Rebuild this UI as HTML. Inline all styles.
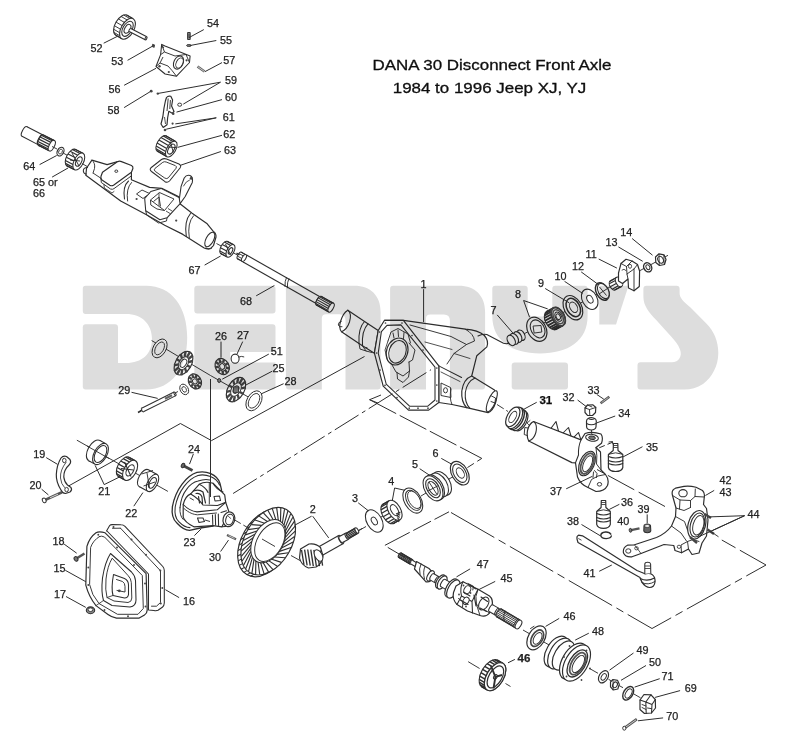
<!DOCTYPE html>
<html><head><meta charset="utf-8"><title>DANA 30 Disconnect Front Axle</title>
<style>
html,body{margin:0;padding:0;background:#fff;}
body{width:791px;height:750px;overflow:hidden;font-family:"Liberation Sans",sans-serif;}
svg{display:block;font-family:"Liberation Sans",sans-serif;}
</style></head><body>
<svg width="791" height="750" viewBox="0 0 791 750">
<rect width="791" height="750" fill="#fff"/>
<g id="art" filter="url(#soft)">
<ellipse cx="121.5" cy="25.2" rx="6.3" ry="11.5" transform="rotate(30 121.5 25.2)" fill="#fff" stroke="#2e2e2e" stroke-width="1.06"/>
<polygon points="115.7,35.2 121.8,38.7 133.3,18.8 127.2,15.3" fill="#fff" stroke="none" stroke-width="0.00" stroke-linejoin="round"/>
<line x1="115.7" y1="35.2" x2="121.8" y2="38.7" stroke="#2e2e2e" stroke-width="1.06" stroke-linecap="butt"/>
<line x1="127.2" y1="15.3" x2="133.3" y2="18.8" stroke="#2e2e2e" stroke-width="1.06" stroke-linecap="butt"/>
<line x1="114.9" y1="34.5" x2="120.9" y2="38.0" stroke="#2e2e2e" stroke-width="0.94" stroke-linecap="butt"/>
<line x1="113.8" y1="32.3" x2="119.8" y2="35.8" stroke="#2e2e2e" stroke-width="0.94" stroke-linecap="butt"/>
<line x1="113.6" y1="29.2" x2="119.6" y2="32.7" stroke="#2e2e2e" stroke-width="0.94" stroke-linecap="butt"/>
<line x1="114.4" y1="25.7" x2="120.4" y2="29.2" stroke="#2e2e2e" stroke-width="0.94" stroke-linecap="butt"/>
<line x1="116.0" y1="22.1" x2="122.1" y2="25.6" stroke="#2e2e2e" stroke-width="0.94" stroke-linecap="butt"/>
<line x1="118.3" y1="18.9" x2="124.4" y2="22.4" stroke="#2e2e2e" stroke-width="0.94" stroke-linecap="butt"/>
<line x1="121.0" y1="16.4" x2="127.0" y2="19.9" stroke="#2e2e2e" stroke-width="0.94" stroke-linecap="butt"/>
<line x1="123.7" y1="15.0" x2="129.8" y2="18.5" stroke="#2e2e2e" stroke-width="0.94" stroke-linecap="butt"/>
<line x1="126.2" y1="14.9" x2="132.2" y2="18.4" stroke="#2e2e2e" stroke-width="0.94" stroke-linecap="butt"/>
<ellipse cx="127.5" cy="28.8" rx="6.3" ry="11.5" transform="rotate(30 127.5 28.8)" fill="#fff" stroke="#2e2e2e" stroke-width="1.06"/>
<ellipse cx="127.5" cy="28.8" rx="4.6" ry="8.3" transform="rotate(30 127.5 28.8)" fill="#fff" stroke="#2e2e2e" stroke-width="1.06"/>
<ellipse cx="127.5" cy="28.8" rx="2.7" ry="4.8" transform="rotate(30 127.5 28.8)" fill="#fff" stroke="#2e2e2e" stroke-width="1.06"/>
<ellipse cx="130.0" cy="30.0" rx="0.8" ry="1.7" transform="rotate(27.41802705746042 130.0 30.0)" fill="#fff" stroke="#2e2e2e" stroke-width="1.06"/>
<polygon points="129.2,31.5 145.2,39.8 146.8,36.8 130.8,28.5" fill="#fff" stroke="none" stroke-width="0.00" stroke-linejoin="round"/>
<line x1="129.2" y1="31.5" x2="145.2" y2="39.8" stroke="#2e2e2e" stroke-width="1.06" stroke-linecap="butt"/>
<line x1="130.8" y1="28.5" x2="146.8" y2="36.8" stroke="#2e2e2e" stroke-width="1.06" stroke-linecap="butt"/>
<ellipse cx="146.0" cy="38.3" rx="0.8" ry="1.7" transform="rotate(27.41802705746042 146.0 38.3)" fill="#fff" stroke="#2e2e2e" stroke-width="1.06"/>
<polygon points="152.6,44.2 154.6,44.9 154.2,47.4 152.2,46.6" fill="#555" stroke="#2e2e2e" stroke-width="0.71" stroke-linejoin="round"/>
<polygon points="187.6,32.5 190.2,32.5 190.2,39.5 187.6,39.5" fill="#888" stroke="#2e2e2e" stroke-width="0.94" stroke-linejoin="round"/>
<line x1="187.6" y1="35.0" x2="190.2" y2="35.0" stroke="#2e2e2e" stroke-width="0.71" stroke-linecap="butt"/>
<line x1="187.6" y1="37.0" x2="190.2" y2="37.0" stroke="#2e2e2e" stroke-width="0.71" stroke-linecap="butt"/>
<ellipse cx="188.9" cy="45.5" rx="2.4" ry="1.0" transform="rotate(0 188.9 45.5)" fill="#777" stroke="#2e2e2e" stroke-width="0.83"/>
<polygon points="161.7,44.4 165.0,46.0 190.1,56.0 189.5,62.5 176.5,76.2 165.1,74.0 156.0,66.5 160.6,54.6" fill="#fff" stroke="#2e2e2e" stroke-width="1.06" stroke-linejoin="round"/>
<polyline points="161.7,44.4 164.5,52.0 160.6,54.6" fill="none" stroke="#2e2e2e" stroke-width="0.94" stroke-linejoin="round"/>
<polyline points="164.5,52.0 175.0,56.0 186.0,54.5" fill="none" stroke="#2e2e2e" stroke-width="0.94" stroke-linejoin="round"/>
<ellipse cx="178.5" cy="62.5" rx="4.6" ry="7.0" transform="rotate(25 178.5 62.5)" fill="#fff" stroke="#2e2e2e" stroke-width="1.06"/>
<ellipse cx="179.5" cy="63.0" rx="3.2" ry="5.4" transform="rotate(25 179.5 63.0)" fill="#fff" stroke="#2e2e2e" stroke-width="0.94"/>
<polyline points="156.0,66.5 160.0,63.0 168.0,66.0 172.0,70.5 176.5,76.2" fill="none" stroke="#2e2e2e" stroke-width="0.94" stroke-linejoin="round"/>
<polyline points="160.0,63.0 163.0,57.0" fill="none" stroke="#2e2e2e" stroke-width="0.94" stroke-linejoin="round"/>
<circle cx="159.5" cy="66.3" r="1.2" fill="#444"/>
<circle cx="168.8" cy="72.0" r="1.1" fill="#444"/>
<circle cx="186.6" cy="60.3" r="1.1" fill="#444"/>
<circle cx="163.2" cy="47.3" r="0.9" fill="#444"/>
<line x1="186.0" y1="54.5" x2="189.5" y2="62.5" stroke="#2e2e2e" stroke-width="0.94" stroke-linecap="butt"/>
<line x1="197.5" y1="66.5" x2="204.5" y2="71.5" stroke="#666" stroke-width="2.60" stroke-linecap="butt"/>
<line x1="197.5" y1="66.5" x2="204.5" y2="71.5" stroke="#ddd" stroke-width="0.83" stroke-linecap="butt"/>
<circle cx="151.2" cy="91.2" r="1.4" fill="#444"/>
<circle cx="157.8" cy="93.6" r="1.2" fill="#444"/>
<ellipse cx="179.7" cy="104.7" rx="2.0" ry="1.6" transform="rotate(0 179.7 104.7)" fill="#fff" stroke="#2e2e2e" stroke-width="0.94"/>
<path d="M166.5 97.5 Q168 95.5 170.8 96.3 L172.6 100 L171.6 106 L174 111.5 L172.2 113.3 L168.8 111.3 L167.6 118 L167 124.8 L163.2 127.5 L161 124 L162.8 117 L164 108 L165.4 101 Z" fill="#fff" stroke="#2e2e2e" stroke-width="1.18" stroke-linejoin="round" stroke-linecap="round"/>
<line x1="168.2" y1="98.5" x2="167.0" y2="111.0" stroke="#2e2e2e" stroke-width="0.94" stroke-linecap="butt"/>
<line x1="170.4" y1="100.0" x2="169.8" y2="109.0" stroke="#2e2e2e" stroke-width="0.94" stroke-linecap="butt"/>
<line x1="164.5" y1="117.0" x2="165.5" y2="124.0" stroke="#2e2e2e" stroke-width="0.83" stroke-linecap="butt"/>
<circle cx="173.2" cy="113.8" r="1.3" fill="#444"/>
<circle cx="172.6" cy="123.6" r="1.1" fill="#444"/>
<circle cx="165.0" cy="130.0" r="1.3" fill="#444"/>
<ellipse cx="161.7" cy="143.6" rx="4.4" ry="8.8" transform="rotate(30 161.7 143.6)" fill="#fff" stroke="#2e2e2e" stroke-width="1.06"/>
<polygon points="157.3,151.2 166.9,156.7 175.7,141.4 166.1,135.9" fill="#fff" stroke="none" stroke-width="0.00" stroke-linejoin="round"/>
<line x1="157.3" y1="151.2" x2="166.9" y2="156.7" stroke="#2e2e2e" stroke-width="1.06" stroke-linecap="butt"/>
<line x1="166.1" y1="135.9" x2="175.7" y2="141.4" stroke="#2e2e2e" stroke-width="1.06" stroke-linecap="butt"/>
<line x1="156.7" y1="150.6" x2="166.2" y2="156.1" stroke="#2e2e2e" stroke-width="1.18" stroke-linecap="butt"/>
<line x1="156.0" y1="148.7" x2="165.5" y2="154.2" stroke="#2e2e2e" stroke-width="1.18" stroke-linecap="butt"/>
<line x1="156.1" y1="146.0" x2="165.7" y2="151.5" stroke="#2e2e2e" stroke-width="1.18" stroke-linecap="butt"/>
<line x1="157.1" y1="142.9" x2="166.7" y2="148.4" stroke="#2e2e2e" stroke-width="1.18" stroke-linecap="butt"/>
<line x1="158.9" y1="139.9" x2="168.4" y2="145.4" stroke="#2e2e2e" stroke-width="1.18" stroke-linecap="butt"/>
<line x1="161.0" y1="137.5" x2="170.5" y2="143.0" stroke="#2e2e2e" stroke-width="1.18" stroke-linecap="butt"/>
<line x1="163.3" y1="136.0" x2="172.8" y2="141.5" stroke="#2e2e2e" stroke-width="1.18" stroke-linecap="butt"/>
<line x1="165.3" y1="135.6" x2="174.8" y2="141.1" stroke="#2e2e2e" stroke-width="1.18" stroke-linecap="butt"/>
<ellipse cx="171.3" cy="149.1" rx="4.4" ry="8.8" transform="rotate(30 171.3 149.1)" fill="#fff" stroke="#2e2e2e" stroke-width="1.06"/>
<ellipse cx="171.3" cy="149.1" rx="2.7" ry="5.5" transform="rotate(30 171.3 149.1)" fill="#fff" stroke="#2e2e2e" stroke-width="1.06"/>
<line x1="170.3" y1="141.5" x2="173.3" y2="152.3" stroke="#2e2e2e" stroke-width="0.94" stroke-linecap="butt"/>
<line x1="167.6" y1="147.0" x2="176.0" y2="147.6" stroke="#2e2e2e" stroke-width="0.94" stroke-linecap="butt"/>
<path d="M151.5 171.5 Q149 169.5 151.3 167.5 L161.5 159.5 Q163.8 158 166.5 159 L179 164 Q181.8 165.5 180 168 L169.5 181 Q167.5 183 165 181.7 Z" fill="#fff" stroke="#2e2e2e" stroke-width="1.06" stroke-linejoin="round" stroke-linecap="round"/>
<path d="M155 171.2 Q153.3 169.8 155 168.4 L162.8 162.3 Q164.3 161.3 166.2 162 L175.3 165.6 Q177.2 166.6 176 168.3 L168.3 177.8 Q167 179.2 165.2 178.3 Z" fill="#fff" stroke="#2e2e2e" stroke-width="0.94" stroke-linejoin="round" stroke-linecap="round"/>
<ellipse cx="24.5" cy="131.5" rx="2.2" ry="5.4" transform="rotate(27.41802705746046 24.5 131.5)" fill="#fff" stroke="#2e2e2e" stroke-width="1.06"/>
<polygon points="22.0,136.3 38.0,144.6 43.0,135.0 27.0,126.7" fill="#fff" stroke="none" stroke-width="0.00" stroke-linejoin="round"/>
<line x1="22.0" y1="136.3" x2="38.0" y2="144.6" stroke="#2e2e2e" stroke-width="1.06" stroke-linecap="butt"/>
<line x1="27.0" y1="126.7" x2="43.0" y2="135.0" stroke="#2e2e2e" stroke-width="1.06" stroke-linecap="butt"/>
<ellipse cx="40.5" cy="139.8" rx="2.2" ry="5.4" transform="rotate(27.41802705746046 40.5 139.8)" fill="#fff" stroke="#2e2e2e" stroke-width="1.06"/>
<ellipse cx="41.2" cy="140.3" rx="2.6" ry="5.8" transform="rotate(27 41.2 140.3)" fill="#fff" stroke="#2e2e2e" stroke-width="1.06"/>
<polygon points="38.5,145.4 49.2,150.9 54.5,140.6 43.8,135.1" fill="#fff" stroke="none" stroke-width="0.00" stroke-linejoin="round"/>
<line x1="38.5" y1="145.4" x2="49.2" y2="150.9" stroke="#2e2e2e" stroke-width="1.06" stroke-linecap="butt"/>
<line x1="43.8" y1="135.1" x2="54.5" y2="140.6" stroke="#2e2e2e" stroke-width="1.06" stroke-linecap="butt"/>
<line x1="38.1" y1="145.1" x2="48.8" y2="150.5" stroke="#2e2e2e" stroke-width="1.18" stroke-linecap="butt"/>
<line x1="37.6" y1="143.6" x2="48.3" y2="149.0" stroke="#2e2e2e" stroke-width="1.18" stroke-linecap="butt"/>
<line x1="37.9" y1="141.5" x2="48.6" y2="146.9" stroke="#2e2e2e" stroke-width="1.18" stroke-linecap="butt"/>
<line x1="38.8" y1="139.1" x2="49.5" y2="144.5" stroke="#2e2e2e" stroke-width="1.18" stroke-linecap="butt"/>
<line x1="40.2" y1="137.0" x2="50.9" y2="142.4" stroke="#2e2e2e" stroke-width="1.18" stroke-linecap="butt"/>
<line x1="41.8" y1="135.5" x2="52.5" y2="140.9" stroke="#2e2e2e" stroke-width="1.18" stroke-linecap="butt"/>
<line x1="43.2" y1="135.0" x2="53.9" y2="140.4" stroke="#2e2e2e" stroke-width="1.18" stroke-linecap="butt"/>
<ellipse cx="51.8" cy="145.7" rx="2.6" ry="5.8" transform="rotate(27 51.8 145.7)" fill="#fff" stroke="#2e2e2e" stroke-width="1.06"/>
<line x1="52.0" y1="146.5" x2="57.0" y2="149.0" stroke="#2e2e2e" stroke-width="0.94" stroke-linecap="butt"/>
<ellipse cx="60.5" cy="151.6" rx="3.2" ry="4.6" transform="rotate(27 60.5 151.6)" fill="#fff" stroke="#2e2e2e" stroke-width="1.18"/>
<ellipse cx="60.5" cy="151.6" rx="1.7" ry="2.6" transform="rotate(27 60.5 151.6)" fill="#fff" stroke="#2e2e2e" stroke-width="0.83"/>
<line x1="63.5" y1="153.2" x2="68.5" y2="156.0" stroke="#2e2e2e" stroke-width="0.94" stroke-linecap="butt"/>
<ellipse cx="71.2" cy="157.7" rx="4.7" ry="9.3" transform="rotate(27 71.2 157.7)" fill="#fff" stroke="#2e2e2e" stroke-width="1.06"/>
<polygon points="67.0,166.0 74.6,169.8 83.0,153.2 75.4,149.4" fill="#fff" stroke="none" stroke-width="0.00" stroke-linejoin="round"/>
<line x1="67.0" y1="166.0" x2="74.6" y2="169.8" stroke="#2e2e2e" stroke-width="1.06" stroke-linecap="butt"/>
<line x1="75.4" y1="149.4" x2="83.0" y2="153.2" stroke="#2e2e2e" stroke-width="1.06" stroke-linecap="butt"/>
<line x1="66.3" y1="165.4" x2="73.8" y2="169.2" stroke="#2e2e2e" stroke-width="1.18" stroke-linecap="butt"/>
<line x1="65.4" y1="163.4" x2="73.0" y2="167.2" stroke="#2e2e2e" stroke-width="1.18" stroke-linecap="butt"/>
<line x1="65.4" y1="160.5" x2="73.0" y2="164.4" stroke="#2e2e2e" stroke-width="1.18" stroke-linecap="butt"/>
<line x1="66.3" y1="157.2" x2="73.9" y2="161.1" stroke="#2e2e2e" stroke-width="1.18" stroke-linecap="butt"/>
<line x1="68.0" y1="154.0" x2="75.5" y2="157.8" stroke="#2e2e2e" stroke-width="1.18" stroke-linecap="butt"/>
<line x1="70.1" y1="151.3" x2="77.7" y2="155.2" stroke="#2e2e2e" stroke-width="1.18" stroke-linecap="butt"/>
<line x1="72.4" y1="149.6" x2="80.0" y2="153.5" stroke="#2e2e2e" stroke-width="1.18" stroke-linecap="butt"/>
<line x1="74.5" y1="149.1" x2="82.1" y2="153.0" stroke="#2e2e2e" stroke-width="1.18" stroke-linecap="butt"/>
<ellipse cx="78.8" cy="161.5" rx="4.7" ry="9.3" transform="rotate(27 78.8 161.5)" fill="#fff" stroke="#2e2e2e" stroke-width="1.06"/>
<ellipse cx="78.8" cy="161.5" rx="2.6" ry="5.1" transform="rotate(27 78.8 161.5)" fill="#fff" stroke="#2e2e2e" stroke-width="1.06"/>
<line x1="72.0" y1="153.0" x2="79.0" y2="166.0" stroke="#2e2e2e" stroke-width="0.94" stroke-linecap="butt"/>
<line x1="70.0" y1="160.0" x2="80.0" y2="161.0" stroke="#2e2e2e" stroke-width="0.94" stroke-linecap="butt"/>
<line x1="82.0" y1="163.5" x2="88.0" y2="167.0" stroke="#2e2e2e" stroke-width="0.94" stroke-linecap="butt"/>
<path d="M91.9 160.1 L86.6 168 L85.8 175.2 L120.7 201 L146.5 214.7 L164.7 225.3 L182.9 234.4 L204.2 248 Q210 250.5 213.5 245.5 L216 237 Q216.3 233 213.3 231.4 L207.2 223.8 L192.1 213.2 L178.4 202.5 L178.4 196.5 L161.7 188.3 L149.6 187.4 L131.4 179.8 L131.4 172.2 L117.7 161.6 L107.1 164.6 Z" fill="#fff" stroke="#2e2e2e" stroke-width="1.18" stroke-linejoin="round" stroke-linecap="round"/>
<path d="M87.5 167.5 Q83.2 167.5 83.3 171 Q83.8 174.3 86.5 174" fill="none" stroke="#2e2e2e" stroke-width="1.06" stroke-linejoin="round" stroke-linecap="round"/>
<path d="M91.9 160.1 Q95.5 163 94.5 168.5 L93 173" fill="none" stroke="#2e2e2e" stroke-width="0.94" stroke-linejoin="round" stroke-linecap="round"/>
<line x1="93.0" y1="173.0" x2="101.0" y2="178.3" stroke="#2e2e2e" stroke-width="0.94" stroke-linecap="butt"/>
<path d="M102.5 172.2 L117.7 161.6 Q119.5 160.8 121.5 161.6 L131.5 165.5 Q133.3 166.6 132.9 168.5 L131.4 172.2 L113.5 185.2 Q111.6 186.3 109.8 185.3 L102 180 Q100.3 178.6 101 176.3 Z" fill="#fff" stroke="#2e2e2e" stroke-width="1.18" stroke-linejoin="round" stroke-linecap="round"/>
<path d="M101 178.3 L101.3 182.5 L110.5 189 Q112.5 189.8 114 188.6 L131.2 176" fill="none" stroke="#2e2e2e" stroke-width="0.94" stroke-linejoin="round" stroke-linecap="round"/>
<ellipse cx="116.3" cy="171.2" rx="1.5" ry="1.2" transform="rotate(0 116.3 171.2)" fill="#fff" stroke="#2e2e2e" stroke-width="0.94"/>
<path d="M104 184.5 L104.3 188 L112 193 L114 191.5" fill="none" stroke="#2e2e2e" stroke-width="0.83" stroke-linejoin="round" stroke-linecap="round"/>
<path d="M128.5 181 Q122.5 186.5 124.5 199" fill="none" stroke="#2e2e2e" stroke-width="1.06" stroke-linejoin="round" stroke-linecap="round"/>
<path d="M131.5 182.5 Q125.8 188.5 127.6 201" fill="none" stroke="#2e2e2e" stroke-width="0.94" stroke-linejoin="round" stroke-linecap="round"/>
<path d="M179.1 200.6 L181.1 186.4 L184.2 178 Q186.5 174.5 190 175.5 Q193.3 177 192.3 182.4 L185.2 196.5 L180.1 203.6 Z" fill="#fff" stroke="#2e2e2e" stroke-width="1.06" stroke-linejoin="round" stroke-linecap="round"/>
<path d="M183.5 186 Q186 181 189.5 180" fill="none" stroke="#2e2e2e" stroke-width="0.83" stroke-linejoin="round" stroke-linecap="round"/>
<circle cx="191.3" cy="178.3" r="1.5" fill="#444"/>
<polygon points="144.7,198.5 150.8,191.5 160.9,188.4 179.1,197.5 180.1,203.6 167.0,217.8 159.9,219.8 145.7,210.7" fill="#fff" stroke="#2e2e2e" stroke-width="1.06" stroke-linejoin="round"/>
<polygon points="150.5,200.0 159.5,192.5 174.0,199.0 164.5,210.5" fill="#fff" stroke="#2e2e2e" stroke-width="0.94" stroke-linejoin="round"/>
<polyline points="153.5,201.5 159.0,197.0 160.5,206.5" fill="none" stroke="#2e2e2e" stroke-width="0.94" stroke-linejoin="round"/>
<line x1="159.0" y1="192.8" x2="159.0" y2="206.0" stroke="#2e2e2e" stroke-width="0.83" stroke-linecap="butt"/>
<polyline points="145.7,210.7 146.7,215.0 158.5,223.0 166.5,221.0 167.0,217.8" fill="none" stroke="#2e2e2e" stroke-width="0.94" stroke-linejoin="round"/>
<polyline points="150.5,200.0 150.8,205.0 157.0,209.0 164.5,210.5" fill="none" stroke="#2e2e2e" stroke-width="0.94" stroke-linejoin="round"/>
<line x1="166.0" y1="211.0" x2="170.5" y2="213.8" stroke="#2e2e2e" stroke-width="0.83" stroke-linecap="butt"/>
<line x1="168.0" y1="208.5" x2="172.5" y2="211.3" stroke="#2e2e2e" stroke-width="0.83" stroke-linecap="butt"/>
<polygon points="136.5,194.0 142.0,190.0 149.5,193.5 143.0,198.5" fill="#fff" stroke="#2e2e2e" stroke-width="0.94" stroke-linejoin="round"/>
<circle cx="136.6" cy="199.0" r="1.1" fill="#444"/>
<circle cx="176.2" cy="220.6" r="1.1" fill="#444"/>
<path d="M190.5 213.5 Q184 221 186.3 236.5" fill="none" stroke="#2e2e2e" stroke-width="1.06" stroke-linejoin="round" stroke-linecap="round"/>
<path d="M193.5 215.8 Q187 223 189.3 238" fill="none" stroke="#2e2e2e" stroke-width="0.94" stroke-linejoin="round" stroke-linecap="round"/>
<ellipse cx="209.8" cy="239.5" rx="3.8" ry="8.0" transform="rotate(28 209.8 239.5)" fill="#fff" stroke="#2e2e2e" stroke-width="1.06"/>
<path d="M206 248 Q208.5 250.5 211.5 248.5" fill="none" stroke="#2e2e2e" stroke-width="0.94" stroke-linejoin="round" stroke-linecap="round"/>
<line x1="216.5" y1="243.5" x2="222.0" y2="246.5" stroke="#2e2e2e" stroke-width="0.94" stroke-linecap="butt"/>
<ellipse cx="224.3" cy="247.7" rx="3.5" ry="7.0" transform="rotate(28 224.3 247.7)" fill="#fff" stroke="#2e2e2e" stroke-width="1.06"/>
<polygon points="221.0,253.8 227.2,257.1 233.8,244.8 227.6,241.5" fill="#fff" stroke="none" stroke-width="0.00" stroke-linejoin="round"/>
<line x1="221.0" y1="253.8" x2="227.2" y2="257.1" stroke="#2e2e2e" stroke-width="1.06" stroke-linecap="butt"/>
<line x1="227.6" y1="241.5" x2="233.8" y2="244.8" stroke="#2e2e2e" stroke-width="1.06" stroke-linecap="butt"/>
<line x1="220.3" y1="253.2" x2="226.5" y2="256.5" stroke="#2e2e2e" stroke-width="1.18" stroke-linecap="butt"/>
<line x1="219.8" y1="250.9" x2="226.0" y2="254.2" stroke="#2e2e2e" stroke-width="1.18" stroke-linecap="butt"/>
<line x1="220.5" y1="247.7" x2="226.7" y2="251.0" stroke="#2e2e2e" stroke-width="1.18" stroke-linecap="butt"/>
<line x1="222.2" y1="244.5" x2="228.4" y2="247.8" stroke="#2e2e2e" stroke-width="1.18" stroke-linecap="butt"/>
<line x1="224.4" y1="242.1" x2="230.6" y2="245.4" stroke="#2e2e2e" stroke-width="1.18" stroke-linecap="butt"/>
<line x1="226.7" y1="241.3" x2="232.9" y2="244.5" stroke="#2e2e2e" stroke-width="1.18" stroke-linecap="butt"/>
<ellipse cx="230.5" cy="250.9" rx="3.5" ry="7.0" transform="rotate(28 230.5 250.9)" fill="#fff" stroke="#2e2e2e" stroke-width="1.06"/>
<ellipse cx="230.5" cy="250.9" rx="1.8" ry="3.5" transform="rotate(28 230.5 250.9)" fill="#fff" stroke="#2e2e2e" stroke-width="1.06"/>
<line x1="225.5" y1="244.0" x2="230.5" y2="255.0" stroke="#2e2e2e" stroke-width="0.94" stroke-linecap="butt"/>
<line x1="233.0" y1="252.6" x2="238.0" y2="255.4" stroke="#2e2e2e" stroke-width="0.94" stroke-linecap="butt"/>
<ellipse cx="245.0" cy="258.6" rx="1.6" ry="3.9" transform="rotate(29.62721373269514 245.0 258.6)" fill="#fff" stroke="#2e2e2e" stroke-width="1.06"/>
<polygon points="243.1,262.0 316.6,303.8 320.4,297.0 246.9,255.2" fill="#fff" stroke="none" stroke-width="0.00" stroke-linejoin="round"/>
<line x1="243.1" y1="262.0" x2="316.6" y2="303.8" stroke="#2e2e2e" stroke-width="1.06" stroke-linecap="butt"/>
<line x1="246.9" y1="255.2" x2="320.4" y2="297.0" stroke="#2e2e2e" stroke-width="1.06" stroke-linecap="butt"/>
<ellipse cx="318.5" cy="300.4" rx="1.6" ry="3.9" transform="rotate(29.62721373269514 318.5 300.4)" fill="#fff" stroke="#2e2e2e" stroke-width="1.06"/>
<ellipse cx="239.6" cy="255.6" rx="1.8" ry="3.9" transform="rotate(29.5 239.6 255.6)" fill="#fff" stroke="#2e2e2e" stroke-width="1.06"/>
<polygon points="237.7,259.0 242.1,261.4 245.9,254.6 241.5,252.2" fill="#fff" stroke="none" stroke-width="0.00" stroke-linejoin="round"/>
<line x1="237.7" y1="259.0" x2="242.1" y2="261.4" stroke="#2e2e2e" stroke-width="1.06" stroke-linecap="butt"/>
<line x1="241.5" y1="252.2" x2="245.9" y2="254.6" stroke="#2e2e2e" stroke-width="1.06" stroke-linecap="butt"/>
<line x1="237.3" y1="258.4" x2="241.6" y2="260.8" stroke="#2e2e2e" stroke-width="0.94" stroke-linecap="butt"/>
<line x1="237.5" y1="256.1" x2="241.8" y2="258.5" stroke="#2e2e2e" stroke-width="0.94" stroke-linecap="butt"/>
<line x1="238.9" y1="253.5" x2="243.3" y2="255.9" stroke="#2e2e2e" stroke-width="0.94" stroke-linecap="butt"/>
<line x1="240.8" y1="252.1" x2="245.2" y2="254.6" stroke="#2e2e2e" stroke-width="0.94" stroke-linecap="butt"/>
<ellipse cx="244.0" cy="258.0" rx="1.8" ry="3.9" transform="rotate(29.5 244.0 258.0)" fill="#fff" stroke="#2e2e2e" stroke-width="1.06"/>
<line x1="236.5" y1="253.0" x2="239.5" y2="255.0" stroke="#2e2e2e" stroke-width="1.42" stroke-linecap="butt"/>
<path d="M286.5 277.5 Q284.6 281 285 286.5" fill="none" stroke="#2e2e2e" stroke-width="0.94" stroke-linejoin="round" stroke-linecap="round"/>
<path d="M288.8 278.8 Q287 282.3 287.4 287.8" fill="none" stroke="#2e2e2e" stroke-width="0.94" stroke-linejoin="round" stroke-linecap="round"/>
<ellipse cx="318.9" cy="300.8" rx="2.2" ry="5.0" transform="rotate(29.5 318.9 300.8)" fill="#fff" stroke="#2e2e2e" stroke-width="1.06"/>
<polygon points="316.4,305.1 328.6,312.0 333.6,303.3 321.4,296.4" fill="#fff" stroke="none" stroke-width="0.00" stroke-linejoin="round"/>
<line x1="316.4" y1="305.1" x2="328.6" y2="312.0" stroke="#2e2e2e" stroke-width="1.06" stroke-linecap="butt"/>
<line x1="321.4" y1="296.4" x2="333.6" y2="303.3" stroke="#2e2e2e" stroke-width="1.06" stroke-linecap="butt"/>
<line x1="316.1" y1="304.7" x2="328.3" y2="311.6" stroke="#2e2e2e" stroke-width="1.06" stroke-linecap="butt"/>
<line x1="315.8" y1="303.5" x2="327.9" y2="310.4" stroke="#2e2e2e" stroke-width="1.06" stroke-linecap="butt"/>
<line x1="316.1" y1="301.6" x2="328.3" y2="308.5" stroke="#2e2e2e" stroke-width="1.06" stroke-linecap="butt"/>
<line x1="316.9" y1="299.6" x2="329.1" y2="306.5" stroke="#2e2e2e" stroke-width="1.06" stroke-linecap="butt"/>
<line x1="318.2" y1="297.9" x2="330.4" y2="304.8" stroke="#2e2e2e" stroke-width="1.06" stroke-linecap="butt"/>
<line x1="319.6" y1="296.7" x2="331.8" y2="303.6" stroke="#2e2e2e" stroke-width="1.06" stroke-linecap="butt"/>
<line x1="320.9" y1="296.3" x2="333.1" y2="303.2" stroke="#2e2e2e" stroke-width="1.06" stroke-linecap="butt"/>
<ellipse cx="331.1" cy="307.6" rx="2.2" ry="5.0" transform="rotate(29.5 331.1 307.6)" fill="#fff" stroke="#2e2e2e" stroke-width="1.06"/>
<line x1="151.6" y1="340.5" x2="210.5" y2="375.5" stroke="#2e2e2e" stroke-width="0.94" stroke-linecap="butt"/>
<line x1="210.5" y1="375.5" x2="258.0" y2="402.5" stroke="#2e2e2e" stroke-width="0.94" stroke-linecap="butt"/>
<line x1="140.0" y1="411.0" x2="178.0" y2="391.5" stroke="#2e2e2e" stroke-width="0.94" stroke-linecap="butt"/>
<ellipse cx="159.6" cy="348.4" rx="6.4" ry="10.2" transform="rotate(30 159.6 348.4)" fill="#fff" stroke="#2e2e2e" stroke-width="0.89"/>
<ellipse cx="159.6" cy="348.4" rx="4.0" ry="7.0" transform="rotate(30 159.6 348.4)" fill="#fff" stroke="#2e2e2e" stroke-width="0.83"/>
<ellipse cx="183.5" cy="363.2" rx="7.9" ry="12.8" transform="rotate(30 183.5 363.2)" fill="#fff" stroke="#2e2e2e" stroke-width="1.18"/>
<line x1="187.3" y1="365.4" x2="190.6" y2="367.3" stroke="#444" stroke-width="2.36" stroke-linecap="butt"/>
<line x1="185.0" y1="368.1" x2="186.4" y2="372.5" stroke="#444" stroke-width="2.36" stroke-linecap="butt"/>
<line x1="182.3" y1="369.6" x2="181.3" y2="375.2" stroke="#444" stroke-width="2.36" stroke-linecap="butt"/>
<line x1="180.0" y1="369.3" x2="176.8" y2="374.7" stroke="#444" stroke-width="2.36" stroke-linecap="butt"/>
<line x1="178.6" y1="367.4" x2="174.2" y2="371.1" stroke="#444" stroke-width="2.36" stroke-linecap="butt"/>
<line x1="178.5" y1="364.4" x2="174.0" y2="365.4" stroke="#444" stroke-width="2.36" stroke-linecap="butt"/>
<line x1="179.7" y1="361.0" x2="176.4" y2="359.1" stroke="#444" stroke-width="2.36" stroke-linecap="butt"/>
<line x1="182.0" y1="358.3" x2="180.6" y2="353.9" stroke="#444" stroke-width="2.36" stroke-linecap="butt"/>
<line x1="184.7" y1="356.8" x2="185.7" y2="351.2" stroke="#444" stroke-width="2.36" stroke-linecap="butt"/>
<line x1="187.0" y1="357.1" x2="190.2" y2="351.7" stroke="#444" stroke-width="2.36" stroke-linecap="butt"/>
<line x1="188.4" y1="359.0" x2="192.8" y2="355.3" stroke="#444" stroke-width="2.36" stroke-linecap="butt"/>
<line x1="188.5" y1="362.0" x2="193.0" y2="361.0" stroke="#444" stroke-width="2.36" stroke-linecap="butt"/>
<ellipse cx="183.5" cy="363.2" rx="4.4" ry="7.0" transform="rotate(30 183.5 363.2)" fill="#fff" stroke="#2e2e2e" stroke-width="0.94"/>
<ellipse cx="183.5" cy="363.2" rx="2.8" ry="4.5" transform="rotate(30 183.5 363.2)" fill="#fff" stroke="#2e2e2e" stroke-width="0.94"/>
<ellipse cx="222.2" cy="366.5" rx="6.7" ry="8.4" transform="rotate(-30 222.2 366.5)" fill="#fff" stroke="#2e2e2e" stroke-width="1.18"/>
<line x1="225.4" y1="364.7" x2="228.3" y2="363.0" stroke="#444" stroke-width="2.36" stroke-linecap="butt"/>
<line x1="226.1" y1="367.7" x2="229.6" y2="368.7" stroke="#444" stroke-width="2.36" stroke-linecap="butt"/>
<line x1="225.0" y1="370.1" x2="227.6" y2="373.3" stroke="#444" stroke-width="2.36" stroke-linecap="butt"/>
<line x1="222.6" y1="370.9" x2="223.0" y2="374.8" stroke="#444" stroke-width="2.36" stroke-linecap="butt"/>
<line x1="220.0" y1="369.6" x2="218.0" y2="372.4" stroke="#444" stroke-width="2.36" stroke-linecap="butt"/>
<line x1="218.4" y1="366.9" x2="215.0" y2="367.2" stroke="#444" stroke-width="2.36" stroke-linecap="butt"/>
<line x1="218.6" y1="364.0" x2="215.4" y2="361.7" stroke="#444" stroke-width="2.36" stroke-linecap="butt"/>
<line x1="220.5" y1="362.2" x2="218.9" y2="358.4" stroke="#444" stroke-width="2.36" stroke-linecap="butt"/>
<line x1="223.2" y1="362.5" x2="224.0" y2="359.0" stroke="#444" stroke-width="2.36" stroke-linecap="butt"/>
<ellipse cx="222.2" cy="366.5" rx="3.7" ry="4.6" transform="rotate(-30 222.2 366.5)" fill="#fff" stroke="#2e2e2e" stroke-width="0.94"/>
<ellipse cx="222.2" cy="366.5" rx="2.4" ry="2.9" transform="rotate(-30 222.2 366.5)" fill="#fff" stroke="#2e2e2e" stroke-width="0.94"/>
<ellipse cx="194.9" cy="381.4" rx="6.2" ry="7.8" transform="rotate(-30 194.9 381.4)" fill="#fff" stroke="#2e2e2e" stroke-width="1.18"/>
<line x1="197.9" y1="379.7" x2="200.5" y2="378.2" stroke="#444" stroke-width="2.36" stroke-linecap="butt"/>
<line x1="198.6" y1="382.5" x2="201.8" y2="383.4" stroke="#444" stroke-width="2.36" stroke-linecap="butt"/>
<line x1="197.5" y1="384.8" x2="199.9" y2="387.8" stroke="#444" stroke-width="2.36" stroke-linecap="butt"/>
<line x1="195.3" y1="385.5" x2="195.6" y2="389.1" stroke="#444" stroke-width="2.36" stroke-linecap="butt"/>
<line x1="192.8" y1="384.3" x2="191.0" y2="386.9" stroke="#444" stroke-width="2.36" stroke-linecap="butt"/>
<line x1="191.4" y1="381.7" x2="188.2" y2="382.0" stroke="#444" stroke-width="2.36" stroke-linecap="butt"/>
<line x1="191.6" y1="379.0" x2="188.6" y2="376.9" stroke="#444" stroke-width="2.36" stroke-linecap="butt"/>
<line x1="193.3" y1="377.4" x2="191.9" y2="373.9" stroke="#444" stroke-width="2.36" stroke-linecap="butt"/>
<line x1="195.8" y1="377.7" x2="196.6" y2="374.4" stroke="#444" stroke-width="2.36" stroke-linecap="butt"/>
<ellipse cx="194.9" cy="381.4" rx="3.4" ry="4.3" transform="rotate(-30 194.9 381.4)" fill="#fff" stroke="#2e2e2e" stroke-width="0.94"/>
<ellipse cx="194.9" cy="381.4" rx="2.2" ry="2.7" transform="rotate(-30 194.9 381.4)" fill="#fff" stroke="#2e2e2e" stroke-width="0.94"/>
<ellipse cx="184.2" cy="389.4" rx="4.0" ry="5.6" transform="rotate(-30 184.2 389.4)" fill="#fff" stroke="#2e2e2e" stroke-width="0.89"/>
<ellipse cx="184.2" cy="389.4" rx="2.0" ry="3.0" transform="rotate(-30 184.2 389.4)" fill="#fff" stroke="#2e2e2e" stroke-width="0.83"/>
<ellipse cx="219.2" cy="380.5" rx="1.6" ry="2.0" transform="rotate(0 219.2 380.5)" fill="#888" stroke="#2e2e2e" stroke-width="0.94"/>
<ellipse cx="235.1" cy="358.7" rx="4.0" ry="4.6" transform="rotate(0 235.1 358.7)" fill="#fff" stroke="#2e2e2e" stroke-width="1.06"/>
<path d="M238.8 357 Q241.5 355.8 243.8 356.8" fill="none" stroke="#2e2e2e" stroke-width="0.94" stroke-linejoin="round" stroke-linecap="round"/>
<ellipse cx="236.0" cy="389.6" rx="8.2" ry="13.2" transform="rotate(30 236.0 389.6)" fill="#fff" stroke="#2e2e2e" stroke-width="1.18"/>
<line x1="239.9" y1="391.9" x2="243.4" y2="393.9" stroke="#444" stroke-width="2.36" stroke-linecap="butt"/>
<line x1="237.6" y1="394.7" x2="239.0" y2="399.2" stroke="#444" stroke-width="2.36" stroke-linecap="butt"/>
<line x1="234.8" y1="396.2" x2="233.7" y2="402.0" stroke="#444" stroke-width="2.36" stroke-linecap="butt"/>
<line x1="232.4" y1="395.9" x2="229.1" y2="401.5" stroke="#444" stroke-width="2.36" stroke-linecap="butt"/>
<line x1="230.9" y1="393.9" x2="226.4" y2="397.8" stroke="#444" stroke-width="2.36" stroke-linecap="butt"/>
<line x1="230.8" y1="390.8" x2="226.2" y2="391.9" stroke="#444" stroke-width="2.36" stroke-linecap="butt"/>
<line x1="232.1" y1="387.3" x2="228.6" y2="385.3" stroke="#444" stroke-width="2.36" stroke-linecap="butt"/>
<line x1="234.4" y1="384.5" x2="233.0" y2="380.0" stroke="#444" stroke-width="2.36" stroke-linecap="butt"/>
<line x1="237.2" y1="383.0" x2="238.3" y2="377.2" stroke="#444" stroke-width="2.36" stroke-linecap="butt"/>
<line x1="239.6" y1="383.3" x2="242.9" y2="377.7" stroke="#444" stroke-width="2.36" stroke-linecap="butt"/>
<line x1="241.1" y1="385.3" x2="245.6" y2="381.4" stroke="#444" stroke-width="2.36" stroke-linecap="butt"/>
<line x1="241.2" y1="388.4" x2="245.8" y2="387.3" stroke="#444" stroke-width="2.36" stroke-linecap="butt"/>
<ellipse cx="236.0" cy="389.6" rx="4.5" ry="7.3" transform="rotate(30 236.0 389.6)" fill="#fff" stroke="#2e2e2e" stroke-width="0.94"/>
<ellipse cx="236.0" cy="389.6" rx="2.5" ry="4.0" transform="rotate(30 236.0 389.6)" fill="#fff" stroke="#2e2e2e" stroke-width="0.94"/>
<polygon points="233.5,386.8 238.5,386.8 238.5,392.6 233.5,392.6" fill="#777" stroke="#2e2e2e" stroke-width="0.83" stroke-linejoin="round"/>
<ellipse cx="254.0" cy="400.8" rx="7.0" ry="10.8" transform="rotate(30 254.0 400.8)" fill="#fff" stroke="#2e2e2e" stroke-width="0.89"/>
<ellipse cx="254.0" cy="400.8" rx="4.8" ry="8.0" transform="rotate(30 254.0 400.8)" fill="#fff" stroke="#2e2e2e" stroke-width="0.83"/>
<ellipse cx="142.5" cy="410.0" rx="0.8" ry="2.0" transform="rotate(-26.494489907931353 142.5 410.0)" fill="#fff" stroke="#2e2e2e" stroke-width="1.06"/>
<polygon points="143.4,411.8 175.9,395.6 174.1,392.0 141.6,408.2" fill="#fff" stroke="none" stroke-width="0.00" stroke-linejoin="round"/>
<line x1="143.4" y1="411.8" x2="175.9" y2="395.6" stroke="#2e2e2e" stroke-width="1.06" stroke-linecap="butt"/>
<line x1="141.6" y1="408.2" x2="174.1" y2="392.0" stroke="#2e2e2e" stroke-width="1.06" stroke-linecap="butt"/>
<ellipse cx="175.0" cy="393.8" rx="0.8" ry="2.0" transform="rotate(-26.494489907931353 175.0 393.8)" fill="#fff" stroke="#2e2e2e" stroke-width="1.06"/>
<line x1="138.0" y1="412.5" x2="141.5" y2="410.6" stroke="#2e2e2e" stroke-width="1.65" stroke-linecap="butt"/>
<line x1="165.0" y1="398.8" x2="172.0" y2="395.3" stroke="#666" stroke-width="2.12" stroke-linecap="butt"/>
<line x1="76.9" y1="440.2" x2="167.9" y2="491.4" stroke="#2e2e2e" stroke-width="0.94" stroke-linecap="butt"/>
<path d="M61 458 Q63 455.5 66.5 456.5 L70 459.5 Q71.5 462 69.5 464.5 Q63.5 470 63.8 477 Q64.3 482 67.5 485 L71 487.5 Q72.5 490 70 492 L65.5 493.5 Q62 493 61 490 Q56 482 56.3 474.5 Q56.8 465 61 458 Z" fill="#fff" stroke="#2e2e2e" stroke-width="1.18" stroke-linejoin="round" stroke-linecap="round"/>
<ellipse cx="64.3" cy="460.5" rx="1.8" ry="2.2" transform="rotate(0 64.3 460.5)" fill="#fff" stroke="#2e2e2e" stroke-width="0.94"/>
<ellipse cx="66.6" cy="489.6" rx="1.8" ry="2.2" transform="rotate(0 66.6 489.6)" fill="#fff" stroke="#2e2e2e" stroke-width="0.94"/>
<path d="M66 462.5 Q60 470 60.5 478 Q61 484 64.5 487.5" fill="none" stroke="#2e2e2e" stroke-width="0.83" stroke-linejoin="round" stroke-linecap="round"/>
<line x1="45.0" y1="500.0" x2="62.0" y2="492.3" stroke="#555" stroke-width="2.60" stroke-linecap="butt"/>
<ellipse cx="44.2" cy="500.4" rx="1.8" ry="2.4" transform="rotate(-25 44.2 500.4)" fill="#fff" stroke="#2e2e2e" stroke-width="0.94"/>
<line x1="50.0" y1="497.8" x2="58.0" y2="494.2" stroke="#ddd" stroke-width="0.94" stroke-linecap="butt"/>
<ellipse cx="94.3" cy="450.6" rx="6.4" ry="11.6" transform="rotate(29 94.3 450.6)" fill="#fff" stroke="#2e2e2e" stroke-width="1.06"/>
<polygon points="88.7,460.7 94.8,464.1 106.1,443.9 100.0,440.5" fill="#fff" stroke="none" stroke-width="0.00" stroke-linejoin="round"/>
<line x1="88.7" y1="460.7" x2="94.8" y2="464.1" stroke="#2e2e2e" stroke-width="1.06" stroke-linecap="butt"/>
<line x1="100.0" y1="440.5" x2="106.1" y2="443.9" stroke="#2e2e2e" stroke-width="1.06" stroke-linecap="butt"/>
<ellipse cx="100.5" cy="454.0" rx="6.4" ry="11.6" transform="rotate(29 100.5 454.0)" fill="#fff" stroke="#2e2e2e" stroke-width="1.06"/>
<ellipse cx="100.5" cy="454.0" rx="5.1" ry="9.3" transform="rotate(29 100.5 454.0)" fill="#fff" stroke="#2e2e2e" stroke-width="1.06"/>
<line x1="87.0" y1="446.0" x2="109.0" y2="458.5" stroke="#2e2e2e" stroke-width="0.94" stroke-linecap="butt"/>
<ellipse cx="123.9" cy="467.0" rx="6.1" ry="11.0" transform="rotate(29 123.9 467.0)" fill="#fff" stroke="#2e2e2e" stroke-width="1.06"/>
<polygon points="118.6,476.6 124.7,480.0 135.4,460.8 129.3,457.4" fill="#fff" stroke="none" stroke-width="0.00" stroke-linejoin="round"/>
<line x1="118.6" y1="476.6" x2="124.7" y2="480.0" stroke="#2e2e2e" stroke-width="1.06" stroke-linecap="butt"/>
<line x1="129.3" y1="457.4" x2="135.4" y2="460.8" stroke="#2e2e2e" stroke-width="1.06" stroke-linecap="butt"/>
<line x1="117.8" y1="476.0" x2="123.9" y2="479.4" stroke="#2e2e2e" stroke-width="1.30" stroke-linecap="butt"/>
<line x1="116.7" y1="473.9" x2="122.8" y2="477.3" stroke="#2e2e2e" stroke-width="1.30" stroke-linecap="butt"/>
<line x1="116.5" y1="470.9" x2="122.6" y2="474.3" stroke="#2e2e2e" stroke-width="1.30" stroke-linecap="butt"/>
<line x1="117.1" y1="467.5" x2="123.3" y2="470.9" stroke="#2e2e2e" stroke-width="1.30" stroke-linecap="butt"/>
<line x1="118.6" y1="464.1" x2="124.8" y2="467.5" stroke="#2e2e2e" stroke-width="1.30" stroke-linecap="butt"/>
<line x1="120.8" y1="461.0" x2="126.9" y2="464.4" stroke="#2e2e2e" stroke-width="1.30" stroke-linecap="butt"/>
<line x1="123.3" y1="458.6" x2="129.4" y2="462.0" stroke="#2e2e2e" stroke-width="1.30" stroke-linecap="butt"/>
<line x1="125.9" y1="457.2" x2="132.0" y2="460.6" stroke="#2e2e2e" stroke-width="1.30" stroke-linecap="butt"/>
<line x1="128.3" y1="457.0" x2="134.4" y2="460.4" stroke="#2e2e2e" stroke-width="1.30" stroke-linecap="butt"/>
<ellipse cx="130.1" cy="470.4" rx="6.1" ry="11.0" transform="rotate(29 130.1 470.4)" fill="#fff" stroke="#2e2e2e" stroke-width="1.06"/>
<ellipse cx="130.1" cy="470.4" rx="3.3" ry="6.1" transform="rotate(29 130.1 470.4)" fill="#fff" stroke="#2e2e2e" stroke-width="1.06"/>
<line x1="124.5" y1="462.0" x2="131.0" y2="476.5" stroke="#2e2e2e" stroke-width="1.06" stroke-linecap="butt"/>
<line x1="121.0" y1="468.5" x2="133.5" y2="470.0" stroke="#2e2e2e" stroke-width="1.06" stroke-linecap="butt"/>
<ellipse cx="143.7" cy="478.1" rx="4.8" ry="9.6" transform="rotate(29 143.7 478.1)" fill="#fff" stroke="#2e2e2e" stroke-width="1.06"/>
<polygon points="139.1,486.5 147.8,491.3 157.1,474.5 148.4,469.7" fill="#fff" stroke="none" stroke-width="0.00" stroke-linejoin="round"/>
<line x1="139.1" y1="486.5" x2="147.8" y2="491.3" stroke="#2e2e2e" stroke-width="1.06" stroke-linecap="butt"/>
<line x1="148.4" y1="469.7" x2="157.1" y2="474.5" stroke="#2e2e2e" stroke-width="1.06" stroke-linecap="butt"/>
<ellipse cx="152.5" cy="482.9" rx="4.8" ry="9.6" transform="rotate(29 152.5 482.9)" fill="#fff" stroke="#2e2e2e" stroke-width="1.06"/>
<ellipse cx="152.5" cy="482.9" rx="2.9" ry="5.8" transform="rotate(29 152.5 482.9)" fill="#fff" stroke="#2e2e2e" stroke-width="1.06"/>
<line x1="141.5" y1="474.0" x2="153.0" y2="470.5" stroke="#2e2e2e" stroke-width="0.94" stroke-linecap="butt"/>
<line x1="143.5" y1="486.0" x2="155.0" y2="482.0" stroke="#2e2e2e" stroke-width="0.94" stroke-linecap="butt"/>
<line x1="147.0" y1="473.0" x2="149.5" y2="488.0" stroke="#2e2e2e" stroke-width="0.94" stroke-linecap="butt"/>
<line x1="183.5" y1="465.8" x2="192.5" y2="470.6" stroke="#444" stroke-width="2.83" stroke-linecap="butt"/>
<ellipse cx="183.0" cy="465.5" rx="1.6" ry="2.3" transform="rotate(28 183.0 465.5)" fill="#666" stroke="#2e2e2e" stroke-width="0.94"/>
<line x1="233.0" y1="519.0" x2="262.0" y2="536.0" stroke="#2e2e2e" stroke-width="0.94" stroke-dasharray="9 3" stroke-linecap="butt"/>
<path d="M221.5 489.6 L219.9 483.2 C217 474 206 470.3 197 472.4 C187 475.5 175.5 489 172.4 506.6 C171.3 515 173.5 520 176.9 523 C181 527.5 186 530.3 189.6 530.3 L200.2 528 L213 526 L221.5 520 Z" fill="#fff" stroke="#2e2e2e" stroke-width="1.30" stroke-linejoin="round" stroke-linecap="round"/>
<path d="M219.5 485 C216 477 206 473.6 198 475.4 C188.5 478.5 178 491 175.2 507 C174.3 514.5 176 519 178.8 521.6 C182.5 525.5 186.5 527.6 190 527.6" fill="none" stroke="#2e2e2e" stroke-width="1.06" stroke-linejoin="round" stroke-linecap="round"/>
<path d="M180 507.7 C181 498 184 492.5 186.4 489.6 C190 484.5 194 482 198.1 481.1 C203 479.3 207 479.3 209.8 480" fill="none" stroke="#2e2e2e" stroke-width="1.06" stroke-linejoin="round" stroke-linecap="round"/>
<path d="M180 507.7 C179.5 513 181 517.5 183.2 519.5" fill="none" stroke="#2e2e2e" stroke-width="0.94" stroke-linejoin="round" stroke-linecap="round"/>
<path d="M183.2 504.5 C185 497 188 495 190.7 493.9 L199.2 484.3 C203 482 209 482 213 483.2 L224.7 494.9 L225.7 502.4 L229 512 L222 526.8 L213 525.7 L193.9 526.8 C188 524 184 520 183.2 517.2 Z" fill="#fff" stroke="#2e2e2e" stroke-width="1.18" stroke-linejoin="round" stroke-linecap="round"/>
<path d="M190.7 493.9 C196 497 200 500.5 203 505 L217.5 505.5 L225.7 502.4" fill="none" stroke="#2e2e2e" stroke-width="1.18" stroke-linejoin="round" stroke-linecap="round"/>
<path d="M193.5 491 C197 489.5 200.5 490 203 492 L205.5 503 M196 493.5 C199 493 201 494.5 202 497 L202.5 503.5 M198.5 496.5 L199.5 503" fill="none" stroke="#2e2e2e" stroke-width="1.18" stroke-linejoin="round" stroke-linecap="round"/>
<path d="M199.2 484.3 C203 486 206.5 489 208 492.5 M213 483.2 C215 487 218.5 490 223 492" fill="none" stroke="#2e2e2e" stroke-width="1.06" stroke-linejoin="round" stroke-linecap="round"/>
<path d="M214 496.5 L219.5 496 L220.5 500.5 L215 501 Z" fill="none" stroke="#2e2e2e" stroke-width="1.06" stroke-linejoin="round" stroke-linecap="round"/>
<path d="M209.3 483 L209.3 504" fill="none" stroke="#2e2e2e" stroke-width="0.94" stroke-linejoin="round" stroke-linecap="round"/>
<path d="M183.2 504.5 C188 509.5 193 511.5 197 511.9 L217.2 509.8 L225.7 502.4" fill="none" stroke="#2e2e2e" stroke-width="1.06" stroke-linejoin="round" stroke-linecap="round"/>
<path d="M184 508.5 C189 513 193.5 514.5 197.5 514.8 L216.5 513" fill="none" stroke="#2e2e2e" stroke-width="0.94" stroke-linejoin="round" stroke-linecap="round"/>
<path d="M197.5 518 L203 518 L204.5 521.5 L199 522.5 Z" fill="none" stroke="#2e2e2e" stroke-width="1.06" stroke-linejoin="round" stroke-linecap="round"/>
<line x1="205.0" y1="520.0" x2="210.0" y2="521.5" stroke="#2e2e2e" stroke-width="0.94" stroke-linecap="butt"/>
<path d="M212.5 515 L212.8 524.5 M215.3 514.5 L215.6 525 M218.3 514 L218.6 525.5" fill="none" stroke="#2e2e2e" stroke-width="1.06" stroke-linejoin="round" stroke-linecap="round"/>
<path d="M190 498 L193.5 500" fill="none" stroke="#2e2e2e" stroke-width="0.94" stroke-linejoin="round" stroke-linecap="round"/>
<path d="M221 512.5 L226.5 510.8 M222 526.8 L228 526.2" fill="none" stroke="#2e2e2e" stroke-width="1.06" stroke-linejoin="round" stroke-linecap="round"/>
<ellipse cx="228.9" cy="519.3" rx="5.8" ry="7.4" transform="rotate(15 228.9 519.3)" fill="#fff" stroke="#2e2e2e" stroke-width="1.18"/>
<ellipse cx="229.6" cy="519.5" rx="3.8" ry="5.4" transform="rotate(15 229.6 519.5)" fill="#fff" stroke="#2e2e2e" stroke-width="1.06"/>
<path d="M228.5 516.5 L230.8 518.5" fill="none" stroke="#2e2e2e" stroke-width="0.83" stroke-linejoin="round" stroke-linecap="round"/>
<line x1="227.0" y1="535.0" x2="236.0" y2="539.2" stroke="#555" stroke-width="2.36" stroke-linecap="butt"/>
<line x1="228.5" y1="535.6" x2="234.5" y2="538.5" stroke="#eee" stroke-width="0.71" stroke-linecap="butt"/>
<ellipse cx="265.0" cy="543.0" rx="23.5" ry="36.5" transform="rotate(30 265.0 543.0)" fill="#fff" stroke="#2e2e2e" stroke-width="1.18"/>
<line x1="253.8" y1="574.4" x2="250.6" y2="576.2" stroke="#2e2e2e" stroke-width="1.06" stroke-linecap="butt"/>
<line x1="250.1" y1="572.9" x2="246.9" y2="574.7" stroke="#2e2e2e" stroke-width="1.06" stroke-linecap="butt"/>
<line x1="247.0" y1="570.6" x2="243.8" y2="572.4" stroke="#2e2e2e" stroke-width="1.06" stroke-linecap="butt"/>
<line x1="244.4" y1="567.4" x2="241.2" y2="569.2" stroke="#2e2e2e" stroke-width="1.06" stroke-linecap="butt"/>
<line x1="242.5" y1="563.6" x2="239.3" y2="565.4" stroke="#2e2e2e" stroke-width="1.06" stroke-linecap="butt"/>
<line x1="241.3" y1="559.1" x2="238.1" y2="560.9" stroke="#2e2e2e" stroke-width="1.06" stroke-linecap="butt"/>
<line x1="240.9" y1="554.2" x2="237.7" y2="556.0" stroke="#2e2e2e" stroke-width="1.06" stroke-linecap="butt"/>
<line x1="241.2" y1="548.8" x2="238.0" y2="550.6" stroke="#2e2e2e" stroke-width="1.06" stroke-linecap="butt"/>
<line x1="242.2" y1="543.3" x2="239.0" y2="545.1" stroke="#2e2e2e" stroke-width="1.06" stroke-linecap="butt"/>
<line x1="243.9" y1="537.7" x2="240.7" y2="539.5" stroke="#2e2e2e" stroke-width="1.06" stroke-linecap="butt"/>
<line x1="246.3" y1="532.2" x2="243.1" y2="534.0" stroke="#2e2e2e" stroke-width="1.06" stroke-linecap="butt"/>
<line x1="249.3" y1="527.0" x2="246.1" y2="528.8" stroke="#2e2e2e" stroke-width="1.06" stroke-linecap="butt"/>
<line x1="252.9" y1="522.2" x2="249.7" y2="524.0" stroke="#2e2e2e" stroke-width="1.06" stroke-linecap="butt"/>
<line x1="256.8" y1="517.8" x2="253.6" y2="519.6" stroke="#2e2e2e" stroke-width="1.06" stroke-linecap="butt"/>
<line x1="261.1" y1="514.1" x2="257.9" y2="515.9" stroke="#2e2e2e" stroke-width="1.06" stroke-linecap="butt"/>
<line x1="265.5" y1="511.2" x2="262.3" y2="513.0" stroke="#2e2e2e" stroke-width="1.06" stroke-linecap="butt"/>
<ellipse cx="268.2" cy="541.2" rx="23.5" ry="36.5" transform="rotate(30 268.2 541.2)" fill="#fff" stroke="#2e2e2e" stroke-width="1.18"/>
<line x1="277.2" y1="554.4" x2="288.3" y2="552.8" stroke="#2e2e2e" stroke-width="1.12" stroke-linecap="butt"/>
<line x1="274.6" y1="557.0" x2="285.1" y2="557.8" stroke="#2e2e2e" stroke-width="1.12" stroke-linecap="butt"/>
<line x1="271.8" y1="559.2" x2="281.4" y2="562.4" stroke="#2e2e2e" stroke-width="1.12" stroke-linecap="butt"/>
<line x1="269.0" y1="560.9" x2="277.3" y2="566.3" stroke="#2e2e2e" stroke-width="1.12" stroke-linecap="butt"/>
<line x1="266.1" y1="562.1" x2="273.0" y2="569.6" stroke="#2e2e2e" stroke-width="1.12" stroke-linecap="butt"/>
<line x1="263.2" y1="562.7" x2="268.6" y2="572.1" stroke="#2e2e2e" stroke-width="1.12" stroke-linecap="butt"/>
<line x1="260.6" y1="562.7" x2="264.1" y2="573.8" stroke="#2e2e2e" stroke-width="1.12" stroke-linecap="butt"/>
<line x1="258.1" y1="562.2" x2="259.7" y2="574.5" stroke="#2e2e2e" stroke-width="1.12" stroke-linecap="butt"/>
<line x1="255.9" y1="561.0" x2="255.6" y2="574.4" stroke="#2e2e2e" stroke-width="1.12" stroke-linecap="butt"/>
<line x1="254.0" y1="559.3" x2="251.9" y2="573.3" stroke="#2e2e2e" stroke-width="1.12" stroke-linecap="butt"/>
<line x1="252.5" y1="557.2" x2="248.5" y2="571.4" stroke="#2e2e2e" stroke-width="1.12" stroke-linecap="butt"/>
<line x1="251.4" y1="554.5" x2="245.7" y2="568.7" stroke="#2e2e2e" stroke-width="1.12" stroke-linecap="butt"/>
<line x1="250.8" y1="551.6" x2="243.6" y2="565.2" stroke="#2e2e2e" stroke-width="1.12" stroke-linecap="butt"/>
<line x1="250.7" y1="548.3" x2="242.1" y2="561.0" stroke="#2e2e2e" stroke-width="1.12" stroke-linecap="butt"/>
<line x1="251.1" y1="544.9" x2="241.3" y2="556.3" stroke="#2e2e2e" stroke-width="1.12" stroke-linecap="butt"/>
<line x1="251.9" y1="541.3" x2="241.2" y2="551.2" stroke="#2e2e2e" stroke-width="1.12" stroke-linecap="butt"/>
<line x1="253.1" y1="537.8" x2="241.9" y2="545.9" stroke="#2e2e2e" stroke-width="1.12" stroke-linecap="butt"/>
<line x1="254.8" y1="534.3" x2="243.3" y2="540.4" stroke="#2e2e2e" stroke-width="1.12" stroke-linecap="butt"/>
<line x1="256.9" y1="531.0" x2="245.4" y2="534.9" stroke="#2e2e2e" stroke-width="1.12" stroke-linecap="butt"/>
<line x1="259.2" y1="528.0" x2="248.1" y2="529.6" stroke="#2e2e2e" stroke-width="1.12" stroke-linecap="butt"/>
<line x1="261.8" y1="525.4" x2="251.3" y2="524.6" stroke="#2e2e2e" stroke-width="1.12" stroke-linecap="butt"/>
<line x1="264.6" y1="523.2" x2="255.0" y2="520.0" stroke="#2e2e2e" stroke-width="1.12" stroke-linecap="butt"/>
<line x1="267.4" y1="521.5" x2="259.1" y2="516.1" stroke="#2e2e2e" stroke-width="1.12" stroke-linecap="butt"/>
<line x1="270.3" y1="520.3" x2="263.4" y2="512.8" stroke="#2e2e2e" stroke-width="1.12" stroke-linecap="butt"/>
<line x1="273.2" y1="519.7" x2="267.8" y2="510.3" stroke="#2e2e2e" stroke-width="1.12" stroke-linecap="butt"/>
<line x1="275.8" y1="519.7" x2="272.3" y2="508.6" stroke="#2e2e2e" stroke-width="1.12" stroke-linecap="butt"/>
<line x1="278.3" y1="520.2" x2="276.7" y2="507.9" stroke="#2e2e2e" stroke-width="1.12" stroke-linecap="butt"/>
<line x1="280.5" y1="521.4" x2="280.8" y2="508.0" stroke="#2e2e2e" stroke-width="1.12" stroke-linecap="butt"/>
<line x1="282.4" y1="523.1" x2="284.5" y2="509.1" stroke="#2e2e2e" stroke-width="1.12" stroke-linecap="butt"/>
<line x1="283.9" y1="525.2" x2="287.9" y2="511.0" stroke="#2e2e2e" stroke-width="1.12" stroke-linecap="butt"/>
<line x1="285.0" y1="527.9" x2="290.7" y2="513.7" stroke="#2e2e2e" stroke-width="1.12" stroke-linecap="butt"/>
<line x1="285.6" y1="530.8" x2="292.8" y2="517.2" stroke="#2e2e2e" stroke-width="1.12" stroke-linecap="butt"/>
<line x1="285.7" y1="534.1" x2="294.3" y2="521.4" stroke="#2e2e2e" stroke-width="1.12" stroke-linecap="butt"/>
<line x1="285.3" y1="537.5" x2="295.1" y2="526.1" stroke="#2e2e2e" stroke-width="1.12" stroke-linecap="butt"/>
<line x1="284.5" y1="541.1" x2="295.2" y2="531.2" stroke="#2e2e2e" stroke-width="1.12" stroke-linecap="butt"/>
<line x1="283.3" y1="544.6" x2="294.5" y2="536.5" stroke="#2e2e2e" stroke-width="1.12" stroke-linecap="butt"/>
<line x1="281.6" y1="548.1" x2="293.1" y2="542.0" stroke="#2e2e2e" stroke-width="1.12" stroke-linecap="butt"/>
<line x1="279.5" y1="551.4" x2="291.0" y2="547.5" stroke="#2e2e2e" stroke-width="1.12" stroke-linecap="butt"/>
<ellipse cx="268.2" cy="541.2" rx="15.0" ry="23.4" transform="rotate(30 268.2 541.2)" fill="#fff" stroke="#2e2e2e" stroke-width="1.06"/>
<ellipse cx="269.8" cy="542.1" rx="12.6" ry="21.0" transform="rotate(30 269.8 542.1)" fill="#fff" stroke="#2e2e2e" stroke-width="0.94"/>
<line x1="262.0" y1="539.0" x2="275.0" y2="546.5" stroke="#2e2e2e" stroke-width="0.94" stroke-linecap="butt"/>
<line x1="291.0" y1="555.5" x2="300.0" y2="560.5" stroke="#2e2e2e" stroke-width="0.94" stroke-linecap="butt"/>
<line x1="322.0" y1="551.0" x2="362.0" y2="528.5" stroke="#2e2e2e" stroke-width="0.94" stroke-linecap="butt"/>
<ellipse cx="318.0" cy="552.5" rx="1.8" ry="4.6" transform="rotate(-29.475889003245747 318.0 552.5)" fill="#fff" stroke="#2e2e2e" stroke-width="1.06"/>
<polygon points="320.3,556.5 343.3,543.5 338.7,535.5 315.7,548.5" fill="#fff" stroke="none" stroke-width="0.00" stroke-linejoin="round"/>
<line x1="320.3" y1="556.5" x2="343.3" y2="543.5" stroke="#2e2e2e" stroke-width="1.06" stroke-linecap="butt"/>
<line x1="315.7" y1="548.5" x2="338.7" y2="535.5" stroke="#2e2e2e" stroke-width="1.06" stroke-linecap="butt"/>
<ellipse cx="341.0" cy="539.5" rx="1.8" ry="4.6" transform="rotate(-29.475889003245747 341.0 539.5)" fill="#fff" stroke="#2e2e2e" stroke-width="1.06"/>
<ellipse cx="341.0" cy="539.5" rx="1.4" ry="3.4" transform="rotate(-28.810793742972727 341.0 539.5)" fill="#fff" stroke="#2e2e2e" stroke-width="1.06"/>
<polygon points="342.6,542.5 348.6,539.2 345.4,533.2 339.4,536.5" fill="#fff" stroke="none" stroke-width="0.00" stroke-linejoin="round"/>
<line x1="342.6" y1="542.5" x2="348.6" y2="539.2" stroke="#2e2e2e" stroke-width="1.06" stroke-linecap="butt"/>
<line x1="339.4" y1="536.5" x2="345.4" y2="533.2" stroke="#2e2e2e" stroke-width="1.06" stroke-linecap="butt"/>
<ellipse cx="347.0" cy="536.2" rx="1.4" ry="3.4" transform="rotate(-28.810793742972727 347.0 536.2)" fill="#fff" stroke="#2e2e2e" stroke-width="1.06"/>
<ellipse cx="348.2" cy="535.5" rx="1.4" ry="3.0" transform="rotate(-30 348.2 535.5)" fill="#fff" stroke="#2e2e2e" stroke-width="1.06"/>
<polygon points="349.7,538.1 358.3,533.1 355.3,527.9 346.7,532.9" fill="#fff" stroke="none" stroke-width="0.00" stroke-linejoin="round"/>
<line x1="349.7" y1="538.1" x2="358.3" y2="533.1" stroke="#2e2e2e" stroke-width="1.06" stroke-linecap="butt"/>
<line x1="346.7" y1="532.9" x2="355.3" y2="527.9" stroke="#2e2e2e" stroke-width="1.06" stroke-linecap="butt"/>
<line x1="349.3" y1="538.2" x2="358.0" y2="533.2" stroke="#2e2e2e" stroke-width="1.06" stroke-linecap="butt"/>
<line x1="348.4" y1="537.8" x2="357.1" y2="532.8" stroke="#2e2e2e" stroke-width="1.06" stroke-linecap="butt"/>
<line x1="347.4" y1="536.8" x2="356.1" y2="531.8" stroke="#2e2e2e" stroke-width="1.06" stroke-linecap="butt"/>
<line x1="346.7" y1="535.5" x2="355.3" y2="530.5" stroke="#2e2e2e" stroke-width="1.06" stroke-linecap="butt"/>
<line x1="346.3" y1="534.1" x2="354.9" y2="529.1" stroke="#2e2e2e" stroke-width="1.06" stroke-linecap="butt"/>
<line x1="346.4" y1="533.2" x2="355.1" y2="528.2" stroke="#2e2e2e" stroke-width="1.06" stroke-linecap="butt"/>
<ellipse cx="356.8" cy="530.5" rx="1.4" ry="3.0" transform="rotate(-30 356.8 530.5)" fill="#fff" stroke="#2e2e2e" stroke-width="1.06"/>
<path d="M300.5 549 L309 544 Q316 543 320.5 547.5 L323 556 Q322 564 316 567 L308.5 568 Q301 565 299.5 558 Z" fill="#fff" stroke="#2e2e2e" stroke-width="1.18" stroke-linejoin="round" stroke-linecap="round"/>
<line x1="301.5" y1="549.9" x2="304.0" y2="564.9" stroke="#2e2e2e" stroke-width="1.30" stroke-linecap="butt"/>
<line x1="304.6" y1="549.7" x2="307.1" y2="565.3" stroke="#2e2e2e" stroke-width="1.30" stroke-linecap="butt"/>
<line x1="307.7" y1="549.5" x2="310.2" y2="565.7" stroke="#2e2e2e" stroke-width="1.30" stroke-linecap="butt"/>
<line x1="310.8" y1="549.7" x2="313.3" y2="566.1" stroke="#2e2e2e" stroke-width="1.30" stroke-linecap="butt"/>
<line x1="313.9" y1="549.9" x2="316.4" y2="566.5" stroke="#2e2e2e" stroke-width="1.30" stroke-linecap="butt"/>
<line x1="317.0" y1="550.1" x2="319.5" y2="566.1" stroke="#2e2e2e" stroke-width="1.30" stroke-linecap="butt"/>
<line x1="320.1" y1="550.3" x2="322.6" y2="565.7" stroke="#2e2e2e" stroke-width="1.30" stroke-linecap="butt"/>
<ellipse cx="318.5" cy="555.5" rx="3.6" ry="6.2" transform="rotate(-30 318.5 555.5)" fill="#fff" stroke="#2e2e2e" stroke-width="0.94"/>
<line x1="359.0" y1="530.5" x2="366.0" y2="526.5" stroke="#2e2e2e" stroke-width="0.94" stroke-linecap="butt"/>
<ellipse cx="374.3" cy="521.0" rx="7.5" ry="12.2" transform="rotate(-30 374.3 521.0)" fill="#fff" stroke="#2e2e2e" stroke-width="1.06"/>
<ellipse cx="374.3" cy="521.0" rx="2.6" ry="4.2" transform="rotate(-30 374.3 521.0)" fill="#fff" stroke="#2e2e2e" stroke-width="0.94"/>
<line x1="381.0" y1="517.0" x2="386.0" y2="514.5" stroke="#2e2e2e" stroke-width="0.94" stroke-linecap="butt"/>
<ellipse cx="388.5" cy="513.8" rx="6.1" ry="11.0" transform="rotate(-30 388.5 513.8)" fill="#fff" stroke="#2e2e2e" stroke-width="1.06"/>
<polygon points="394.0,523.3 400.0,519.8 389.0,500.7 383.0,504.2" fill="#fff" stroke="none" stroke-width="0.00" stroke-linejoin="round"/>
<line x1="394.0" y1="523.3" x2="400.0" y2="519.8" stroke="#2e2e2e" stroke-width="1.06" stroke-linecap="butt"/>
<line x1="383.0" y1="504.2" x2="389.0" y2="500.7" stroke="#2e2e2e" stroke-width="1.06" stroke-linecap="butt"/>
<line x1="393.0" y1="523.7" x2="399.0" y2="520.2" stroke="#2e2e2e" stroke-width="1.30" stroke-linecap="butt"/>
<line x1="390.6" y1="523.5" x2="396.7" y2="520.0" stroke="#2e2e2e" stroke-width="1.30" stroke-linecap="butt"/>
<line x1="388.0" y1="522.2" x2="394.1" y2="518.7" stroke="#2e2e2e" stroke-width="1.30" stroke-linecap="butt"/>
<line x1="385.4" y1="519.9" x2="391.5" y2="516.4" stroke="#2e2e2e" stroke-width="1.30" stroke-linecap="butt"/>
<line x1="383.2" y1="516.8" x2="389.3" y2="513.3" stroke="#2e2e2e" stroke-width="1.30" stroke-linecap="butt"/>
<line x1="381.7" y1="513.3" x2="387.7" y2="509.8" stroke="#2e2e2e" stroke-width="1.30" stroke-linecap="butt"/>
<line x1="380.9" y1="509.9" x2="387.0" y2="506.4" stroke="#2e2e2e" stroke-width="1.30" stroke-linecap="butt"/>
<line x1="381.1" y1="507.0" x2="387.1" y2="503.5" stroke="#2e2e2e" stroke-width="1.30" stroke-linecap="butt"/>
<line x1="382.1" y1="504.9" x2="388.2" y2="501.4" stroke="#2e2e2e" stroke-width="1.30" stroke-linecap="butt"/>
<ellipse cx="394.5" cy="510.2" rx="6.1" ry="11.0" transform="rotate(-30 394.5 510.2)" fill="#fff" stroke="#2e2e2e" stroke-width="1.06"/>
<ellipse cx="394.5" cy="510.2" rx="3.3" ry="6.1" transform="rotate(-30 394.5 510.2)" fill="#fff" stroke="#2e2e2e" stroke-width="1.06"/>
<line x1="396.0" y1="514.0" x2="400.5" y2="512.0" stroke="#2e2e2e" stroke-width="1.06" stroke-linecap="butt"/>
<line x1="396.5" y1="515.6" x2="400.2" y2="513.8" stroke="#2e2e2e" stroke-width="1.06" stroke-linecap="butt"/>
<line x1="397.0" y1="517.2" x2="399.9" y2="515.6" stroke="#2e2e2e" stroke-width="1.06" stroke-linecap="butt"/>
<line x1="397.5" y1="518.8" x2="399.6" y2="517.4" stroke="#2e2e2e" stroke-width="1.06" stroke-linecap="butt"/>
<line x1="398.0" y1="520.4" x2="399.3" y2="519.2" stroke="#2e2e2e" stroke-width="1.06" stroke-linecap="butt"/>
<line x1="398.5" y1="522.0" x2="399.0" y2="521.0" stroke="#2e2e2e" stroke-width="1.06" stroke-linecap="butt"/>
<ellipse cx="412.8" cy="500.6" rx="8.4" ry="13.6" transform="rotate(-30 412.8 500.6)" fill="#fff" stroke="#2e2e2e" stroke-width="1.06"/>
<ellipse cx="413.3" cy="500.3" rx="6.4" ry="11.0" transform="rotate(-30 413.3 500.3)" fill="#fff" stroke="#2e2e2e" stroke-width="0.94"/>
<ellipse cx="414.2" cy="499.8" rx="5.4" ry="9.6" transform="rotate(-30 414.2 499.8)" fill="#fff" stroke="#2e2e2e" stroke-width="0.83"/>
<line x1="421.0" y1="496.0" x2="426.0" y2="493.0" stroke="#2e2e2e" stroke-width="0.94" stroke-linecap="butt"/>
<ellipse cx="442.0" cy="483.5" rx="8.0" ry="13.0" transform="rotate(-30 442.0 483.5)" fill="#fff" stroke="#2e2e2e" stroke-width="1.06"/>
<ellipse cx="439.0" cy="485.0" rx="8.0" ry="13.0" transform="rotate(-30 439.0 485.0)" fill="#fff" stroke="#2e2e2e" stroke-width="1.06"/>
<ellipse cx="434.5" cy="487.5" rx="8.4" ry="13.6" transform="rotate(-30 434.5 487.5)" fill="#fff" stroke="#2e2e2e" stroke-width="1.18"/>
<ellipse cx="433.0" cy="488.3" rx="8.4" ry="13.6" transform="rotate(-30 433.0 488.3)" fill="#fff" stroke="#2e2e2e" stroke-width="1.06"/>
<ellipse cx="433.0" cy="488.3" rx="6.0" ry="10.4" transform="rotate(-30 433.0 488.3)" fill="#fff" stroke="#2e2e2e" stroke-width="1.06"/>
<ellipse cx="433.0" cy="488.3" rx="4.0" ry="7.6" transform="rotate(-30 433.0 488.3)" fill="#fff" stroke="#2e2e2e" stroke-width="0.94"/>
<line x1="429.0" y1="482.0" x2="437.0" y2="494.5" stroke="#2e2e2e" stroke-width="0.94" stroke-linecap="butt"/>
<line x1="428.0" y1="491.0" x2="438.5" y2="485.5" stroke="#2e2e2e" stroke-width="0.94" stroke-linecap="butt"/>
<ellipse cx="459.8" cy="473.2" rx="8.0" ry="12.8" transform="rotate(-30 459.8 473.2)" fill="#fff" stroke="#2e2e2e" stroke-width="1.18"/>
<ellipse cx="459.8" cy="473.2" rx="6.0" ry="10.0" transform="rotate(-30 459.8 473.2)" fill="#fff" stroke="#2e2e2e" stroke-width="1.06"/>
<ellipse cx="460.3" cy="473.0" rx="3.4" ry="5.6" transform="rotate(-30 460.3 473.0)" fill="#fff" stroke="#2e2e2e" stroke-width="0.94"/>
<line x1="448.0" y1="479.5" x2="453.0" y2="476.8" stroke="#2e2e2e" stroke-width="0.94" stroke-linecap="butt"/>
<path d="M106.5 531 L109.7 525.5 Q110.5 524.6 112 524.6 L121 524.8 Q123.5 524.8 125 526.3 L162.8 566.5 Q164.3 568.3 164.3 570.5 L164.3 603 Q164.3 605.5 162.3 607.3 L158 610.3 Q156.3 611 154 610.5 L148.5 610 L148.5 574 L107 531 Z" fill="#fff" stroke="#2e2e2e" stroke-width="1.06" stroke-linejoin="round" stroke-linecap="round"/>
<path d="M112.5 528.3 L120.5 528.2" fill="none" stroke="#2e2e2e" stroke-width="0.94" stroke-linejoin="round" stroke-linecap="round"/>
<path d="M120.5 528.2 L160.5 570.8 L160.5 602.5 L156.5 606.2 L151.5 606.2" fill="none" stroke="#2e2e2e" stroke-width="0.94" stroke-linejoin="round" stroke-linecap="round"/>
<circle cx="131.5" cy="539.5" r="1.0" fill="#444"/>
<circle cx="146.0" cy="554.8" r="1.0" fill="#444"/>
<circle cx="160.3" cy="570.5" r="1.0" fill="#444"/>
<circle cx="162.3" cy="588.0" r="1.0" fill="#444"/>
<circle cx="160.8" cy="603.5" r="1.0" fill="#444"/>
<circle cx="113.5" cy="527.0" r="1.0" fill="#444"/>
<path d="M96 532.8 Q99 531 105.1 532.8 L146.1 573.7 L147.2 610.1 Q147 613.5 144.5 615 L139.2 618.1 L116.5 618.1 Q112 617.5 108 614.5 L96 605.6 Q89 597 85.8 585.1 L86.9 546.4 Q89.5 537.5 96 532.8 Z" fill="#fff" stroke="#2e2e2e" stroke-width="1.18" stroke-linejoin="round" stroke-linecap="round"/>
<path d="M99.5 536.5 Q101.5 535.5 104.5 537 L142.3 575.5 L143.3 608.5 L138 614.3 L117.5 614.3 L99 603.5 Q91.5 595 89.6 584.5 L90.6 547.5 Q93 540.5 99.5 536.5 Z" fill="none" stroke="#2e2e2e" stroke-width="0.94" stroke-linejoin="round" stroke-linecap="round"/>
<circle cx="98.3" cy="534.8" r="0.95" fill="#444"/>
<circle cx="117.0" cy="547.5" r="0.95" fill="#444"/>
<circle cx="134.0" cy="565.0" r="0.95" fill="#444"/>
<circle cx="145.0" cy="583.5" r="0.95" fill="#444"/>
<circle cx="145.5" cy="606.5" r="0.95" fill="#444"/>
<circle cx="128.0" cy="616.2" r="0.95" fill="#444"/>
<circle cx="104.5" cy="610.0" r="0.95" fill="#444"/>
<circle cx="88.3" cy="567.5" r="0.95" fill="#444"/>
<circle cx="88.3" cy="585.0" r="0.95" fill="#444"/>
<path d="M110.5 553.5 Q105 562 102.5 578 Q101 592 103.5 600.5 L112 605.5 L130 607 Q136 606 136 600 L135.5 580.5 Q135 575.5 131.5 572 Z" fill="none" stroke="#2e2e2e" stroke-width="1.06" stroke-linejoin="round" stroke-linecap="round"/>
<path d="M112 558.5 Q107.5 566 106 579 Q105 590 107 597.5 L114 601 L128 602.5 Q131.8 602 131.8 598 L131.3 582.5 Q131 578.5 128.5 576 Z" fill="none" stroke="#2e2e2e" stroke-width="0.94" stroke-linejoin="round" stroke-linecap="round"/>
<path d="M113.5 574.5 L124.5 578.5 Q128.5 580.5 128.5 585 L128.5 594.5 Q128 598 124.5 598 L113 595.5 Q111 588 113.5 574.5 Z" fill="none" stroke="#2e2e2e" stroke-width="1.06" stroke-linejoin="round" stroke-linecap="round"/>
<path d="M116.5 579.5 L122.5 581.5 Q125 583 125 586.5 L125 592 L117 590.5" fill="none" stroke="#2e2e2e" stroke-width="0.94" stroke-linejoin="round" stroke-linecap="round"/>
<path d="M103.5 600.5 L96 605.6" fill="none" stroke="#2e2e2e" stroke-width="0.83" stroke-linejoin="round" stroke-linecap="round"/>
<path d="M113 595.5 L107 597.5" fill="none" stroke="#2e2e2e" stroke-width="0.83" stroke-linejoin="round" stroke-linecap="round"/>
<circle cx="119.3" cy="590.8" r="1.4" fill="#444"/>
<line x1="76.5" y1="558.5" x2="84.5" y2="553.5" stroke="#555" stroke-width="2.60" stroke-linecap="butt"/>
<ellipse cx="76.0" cy="558.9" rx="1.8" ry="2.4" transform="rotate(-30 76.0 558.9)" fill="#777" stroke="#2e2e2e" stroke-width="0.94"/>
<ellipse cx="90.5" cy="610.3" rx="4.2" ry="3.4" transform="rotate(0 90.5 610.3)" fill="#888" stroke="#2e2e2e" stroke-width="1.06"/>
<ellipse cx="90.5" cy="609.7" rx="2.4" ry="1.8" transform="rotate(0 90.5 609.7)" fill="#fff" stroke="#2e2e2e" stroke-width="0.83"/>
<path d="M347.8 310.2 L366.8 322.9 L378.2 330.5 L374.4 353.2 L360.5 344.4 L341.5 331.7 Q338.5 328 340.5 321.5 Q343 313 347.8 310.2 Z" fill="#fff" stroke="#2e2e2e" stroke-width="1.18" stroke-linejoin="round" stroke-linecap="round"/>
<path d="M347.8 310.2 Q352 313.5 349.5 322 Q347 329.5 341.5 331.7" fill="none" stroke="#2e2e2e" stroke-width="1.06" stroke-linejoin="round" stroke-linecap="round"/>
<path d="M341.2 321.5 Q338 322 338.3 325 Q339 327.5 342 326.8" fill="none" stroke="#2e2e2e" stroke-width="0.94" stroke-linejoin="round" stroke-linecap="round"/>
<path d="M364.5 321.5 Q358 328 359 343.5" fill="none" stroke="#2e2e2e" stroke-width="1.06" stroke-linejoin="round" stroke-linecap="round"/>
<path d="M368 323.8 Q361.5 330.5 362.5 345.8" fill="none" stroke="#2e2e2e" stroke-width="1.06" stroke-linejoin="round" stroke-linecap="round"/>
<path d="M362.5 345.8 L366 351 L372 352.5" fill="none" stroke="#2e2e2e" stroke-width="0.94" stroke-linejoin="round" stroke-linecap="round"/>
<path d="M359 343.5 L360 349 L366 351" fill="none" stroke="#2e2e2e" stroke-width="0.94" stroke-linejoin="round" stroke-linecap="round"/>
<circle cx="366.5" cy="348.0" r="1.0" fill="#444"/>
<path d="M384.5 320.3 L403.4 320.3 L465.4 329.2 Q478 330 484.4 335.5 Q489 341 486.9 346.9 L476.8 355.7 L471.7 376 L494.5 389.9 Q497.5 396 495.5 403 Q493 410.5 488.1 412.6 L466.7 407.6 L452 404.5 L438.8 402.5 L438.8 365.9 Z" fill="#fff" stroke="#2e2e2e" stroke-width="1.18" stroke-linejoin="round" stroke-linecap="round"/>
<polygon points="384.5,320.3 403.4,320.3 438.8,365.9 438.8,402.5 428.7,410.1 408.5,410.1 383.2,386.1 374.4,353.2 378.2,330.5" fill="#fff" stroke="#2e2e2e" stroke-width="1.18" stroke-linejoin="round"/>
<polygon points="387.0,325.4 400.9,324.9 435.0,367.1 435.0,400.0 427.5,406.3 409.8,406.3 386.2,384.1 378.2,353.2 381.4,331.7" fill="#fff" stroke="#2e2e2e" stroke-width="1.06" stroke-linejoin="round"/>
<circle cx="385.5" cy="323.0" r="0.85" fill="#444"/>
<circle cx="402.0" cy="323.0" r="0.85" fill="#444"/>
<circle cx="412.0" cy="335.5" r="0.85" fill="#444"/>
<circle cx="423.0" cy="350.0" r="0.85" fill="#444"/>
<circle cx="436.8" cy="368.0" r="0.85" fill="#444"/>
<circle cx="436.8" cy="385.0" r="0.85" fill="#444"/>
<circle cx="436.8" cy="401.0" r="0.85" fill="#444"/>
<circle cx="428.0" cy="408.2" r="0.85" fill="#444"/>
<circle cx="418.0" cy="408.2" r="0.85" fill="#444"/>
<circle cx="409.2" cy="408.2" r="0.85" fill="#444"/>
<circle cx="397.0" cy="397.5" r="0.85" fill="#444"/>
<circle cx="385.0" cy="385.3" r="0.85" fill="#444"/>
<circle cx="380.0" cy="370.0" r="0.85" fill="#444"/>
<circle cx="376.5" cy="353.0" r="0.85" fill="#444"/>
<circle cx="379.5" cy="332.0" r="0.85" fill="#444"/>
<ellipse cx="397.1" cy="351.5" rx="10.5" ry="13.8" transform="rotate(20 397.1 351.5)" fill="#fff" stroke="#2e2e2e" stroke-width="1.18"/>
<ellipse cx="397.5" cy="351.8" rx="8.4" ry="11.6" transform="rotate(20 397.5 351.8)" fill="#fff" stroke="#2e2e2e" stroke-width="1.06"/>
<path d="M388 341 L391 332 L398 328.5 L408 334 L410.5 343" fill="none" stroke="#2e2e2e" stroke-width="0.94" stroke-linejoin="round" stroke-linecap="round"/>
<path d="M393 333 L394 338 M398 330 L398.5 336.5 M404 332.5 L403.5 338.5" fill="none" stroke="#2e2e2e" stroke-width="0.94" stroke-linejoin="round" stroke-linecap="round"/>
<path d="M391.5 364 L396 372 L403 376 L409.5 371 L409 362" fill="none" stroke="#2e2e2e" stroke-width="0.94" stroke-linejoin="round" stroke-linecap="round"/>
<path d="M397 372.5 L397.5 379 L403 382.5 L408.5 377 L409.5 371" fill="none" stroke="#2e2e2e" stroke-width="0.94" stroke-linejoin="round" stroke-linecap="round"/>
<path d="M409 343 L415 350 L412.5 360 L409 362" fill="none" stroke="#2e2e2e" stroke-width="0.94" stroke-linejoin="round" stroke-linecap="round"/>
<path d="M388 341 L385 350 L387.5 360.5 L391.5 364" fill="none" stroke="#2e2e2e" stroke-width="0.83" stroke-linejoin="round" stroke-linecap="round"/>
<path d="M410 325 L451 336.5 L466.5 344.5 L454 353.5 L447 364" fill="none" stroke="#2e2e2e" stroke-width="0.94" stroke-linejoin="round" stroke-linecap="round"/>
<path d="M425 342 L452 349.5" fill="none" stroke="#2e2e2e" stroke-width="0.83" stroke-linejoin="round" stroke-linecap="round"/>
<path d="M454 353.5 L470 358.5" fill="none" stroke="#2e2e2e" stroke-width="0.83" stroke-linejoin="round" stroke-linecap="round"/>
<path d="M465.4 329.2 Q474 334 474.5 341 L466.5 344.5" fill="none" stroke="#2e2e2e" stroke-width="0.94" stroke-linejoin="round" stroke-linecap="round"/>
<path d="M438.8 365.9 L461.6 377.5" fill="none" stroke="#2e2e2e" stroke-width="1.06" stroke-linejoin="round" stroke-linecap="round"/>
<path d="M441 372 L460 381.5" fill="none" stroke="#2e2e2e" stroke-width="0.83" stroke-linejoin="round" stroke-linecap="round"/>
<polygon points="441.0,383.0 450.5,387.5 451.0,397.5 441.0,395.5" fill="#fff" stroke="#2e2e2e" stroke-width="0.94" stroke-linejoin="round"/>
<ellipse cx="445.5" cy="390.3" rx="2.0" ry="2.6" transform="rotate(0 445.5 390.3)" fill="#fff" stroke="#2e2e2e" stroke-width="0.94"/>
<path d="M471.7 376 Q463.5 379 461.8 391 Q461 402 466.7 407.6" fill="none" stroke="#2e2e2e" stroke-width="1.18" stroke-linejoin="round" stroke-linecap="round"/>
<path d="M475 378 Q467 381.5 465.3 392.5 Q464.5 403 470 408.4" fill="none" stroke="#2e2e2e" stroke-width="1.06" stroke-linejoin="round" stroke-linecap="round"/>
<path d="M452 404.5 Q449 398 451 389" fill="none" stroke="#2e2e2e" stroke-width="0.94" stroke-linejoin="round" stroke-linecap="round"/>
<ellipse cx="491.8" cy="401.3" rx="3.6" ry="11.4" transform="rotate(23 491.8 401.3)" fill="#fff" stroke="#2e2e2e" stroke-width="1.06"/>
<path d="M491.5 396 L495.5 398 L495 403 L491 401.5" fill="none" stroke="#2e2e2e" stroke-width="0.94" stroke-linejoin="round" stroke-linecap="round"/>
<path d="M478 336 Q482.5 333.5 486.8 334.5 L503.5 343.3 Q508 344.5 512.5 341.8" fill="none" stroke="#2e2e2e" stroke-width="1.06" stroke-linejoin="round" stroke-linecap="round"/>
<line x1="521.0" y1="335.5" x2="668.0" y2="255.3" stroke="#2e2e2e" stroke-width="0.94" stroke-linecap="butt"/>
<ellipse cx="521.0" cy="335.2" rx="3.6" ry="5.6" transform="rotate(-28.5 521.0 335.2)" fill="#fff" stroke="#2e2e2e" stroke-width="1.18"/>
<ellipse cx="517.6" cy="337.0" rx="3.8" ry="5.8" transform="rotate(-28.5 517.6 337.0)" fill="#fff" stroke="#2e2e2e" stroke-width="1.18"/>
<ellipse cx="514.2" cy="338.8" rx="3.8" ry="5.8" transform="rotate(-28.5 514.2 338.8)" fill="#fff" stroke="#2e2e2e" stroke-width="1.18"/>
<ellipse cx="511.2" cy="340.4" rx="3.6" ry="5.6" transform="rotate(-28.5 511.2 340.4)" fill="#fff" stroke="#2e2e2e" stroke-width="1.18"/>
<ellipse cx="536.8" cy="329.3" rx="9.2" ry="12.8" transform="rotate(-28.5 536.8 329.3)" fill="#fff" stroke="#2e2e2e" stroke-width="1.18"/>
<ellipse cx="537.6" cy="328.9" rx="6.6" ry="9.6" transform="rotate(-28.5 537.6 328.9)" fill="#fff" stroke="#2e2e2e" stroke-width="1.06"/>
<path d="M533.5 326 L541 325.5 L541.8 332 L534.5 333 Z" fill="none" stroke="#2e2e2e" stroke-width="0.94" stroke-linejoin="round" stroke-linecap="round"/>
<ellipse cx="551.4" cy="320.4" rx="6.0" ry="10.0" transform="rotate(-28.5 551.4 320.4)" fill="#fff" stroke="#2e2e2e" stroke-width="1.06"/>
<polygon points="556.2,329.2 563.2,325.4 553.6,307.8 546.6,311.6" fill="#fff" stroke="none" stroke-width="0.00" stroke-linejoin="round"/>
<line x1="556.2" y1="329.2" x2="563.2" y2="325.4" stroke="#2e2e2e" stroke-width="1.06" stroke-linecap="butt"/>
<line x1="546.6" y1="311.6" x2="553.6" y2="307.8" stroke="#2e2e2e" stroke-width="1.06" stroke-linecap="butt"/>
<line x1="555.4" y1="329.5" x2="562.4" y2="325.7" stroke="#2e2e2e" stroke-width="1.77" stroke-linecap="butt"/>
<line x1="553.5" y1="329.6" x2="560.6" y2="325.8" stroke="#2e2e2e" stroke-width="1.77" stroke-linecap="butt"/>
<line x1="551.5" y1="328.9" x2="558.6" y2="325.1" stroke="#2e2e2e" stroke-width="1.77" stroke-linecap="butt"/>
<line x1="549.5" y1="327.6" x2="556.6" y2="323.8" stroke="#2e2e2e" stroke-width="1.77" stroke-linecap="butt"/>
<line x1="547.7" y1="325.6" x2="554.7" y2="321.8" stroke="#2e2e2e" stroke-width="1.77" stroke-linecap="butt"/>
<line x1="546.1" y1="323.3" x2="553.1" y2="319.5" stroke="#2e2e2e" stroke-width="1.77" stroke-linecap="butt"/>
<line x1="545.0" y1="320.7" x2="552.0" y2="316.9" stroke="#2e2e2e" stroke-width="1.77" stroke-linecap="butt"/>
<line x1="544.4" y1="318.1" x2="551.4" y2="314.2" stroke="#2e2e2e" stroke-width="1.77" stroke-linecap="butt"/>
<line x1="544.3" y1="315.6" x2="551.4" y2="311.8" stroke="#2e2e2e" stroke-width="1.77" stroke-linecap="butt"/>
<line x1="544.9" y1="313.6" x2="551.9" y2="309.8" stroke="#2e2e2e" stroke-width="1.77" stroke-linecap="butt"/>
<line x1="545.9" y1="312.1" x2="552.9" y2="308.3" stroke="#2e2e2e" stroke-width="1.77" stroke-linecap="butt"/>
<ellipse cx="558.4" cy="316.6" rx="6.0" ry="10.0" transform="rotate(-28.5 558.4 316.6)" fill="#fff" stroke="#2e2e2e" stroke-width="1.06"/>
<ellipse cx="558.4" cy="316.6" rx="3.0" ry="5.0" transform="rotate(-28.5 558.4 316.6)" fill="#fff" stroke="#2e2e2e" stroke-width="1.06"/>
<ellipse cx="558.2" cy="316.7" rx="6.0" ry="10.0" transform="rotate(-28.5 558.2 316.7)" fill="none" stroke="#444" stroke-width="1.89"/>
<ellipse cx="558.2" cy="316.7" rx="4.4" ry="7.6" transform="rotate(-28.5 558.2 316.7)" fill="none" stroke="#555" stroke-width="1.42"/>
<ellipse cx="558.2" cy="316.7" rx="2.0" ry="3.0" transform="rotate(-28.5 558.2 316.7)" fill="#fff" stroke="#2e2e2e" stroke-width="0.94"/>
<ellipse cx="572.9" cy="307.7" rx="8.8" ry="13.0" transform="rotate(-28.5 572.9 307.7)" fill="#fff" stroke="#2e2e2e" stroke-width="1.18"/>
<ellipse cx="573.3" cy="307.5" rx="6.4" ry="9.8" transform="rotate(-28.5 573.3 307.5)" fill="#fff" stroke="#2e2e2e" stroke-width="1.53"/>
<ellipse cx="573.6" cy="307.3" rx="3.6" ry="5.6" transform="rotate(-28.5 573.6 307.3)" fill="#fff" stroke="#2e2e2e" stroke-width="0.94"/>
<ellipse cx="589.7" cy="299.3" rx="7.4" ry="10.8" transform="rotate(-28.5 589.7 299.3)" fill="#fff" stroke="#2e2e2e" stroke-width="1.06"/>
<ellipse cx="589.9" cy="299.2" rx="2.8" ry="4.2" transform="rotate(-28.5 589.9 299.2)" fill="#fff" stroke="#2e2e2e" stroke-width="0.94"/>
<ellipse cx="602.3" cy="291.5" rx="6.0" ry="9.4" transform="rotate(-28.5 602.3 291.5)" fill="#fff" stroke="#2e2e2e" stroke-width="1.53"/>
<ellipse cx="603.3" cy="291.0" rx="5.0" ry="8.2" transform="rotate(-28.5 603.3 291.0)" fill="#fff" stroke="#2e2e2e" stroke-width="1.06"/>
<line x1="599.5" y1="287.0" x2="606.5" y2="295.5" stroke="#2e2e2e" stroke-width="0.94" stroke-linecap="butt"/>
<line x1="599.0" y1="294.0" x2="607.5" y2="288.5" stroke="#2e2e2e" stroke-width="0.94" stroke-linecap="butt"/>
<ellipse cx="612.9" cy="285.3" rx="3.1" ry="5.2" transform="rotate(-28.5 612.9 285.3)" fill="#fff" stroke="#2e2e2e" stroke-width="1.06"/>
<polygon points="615.4,289.8 621.6,286.5 616.6,277.4 610.4,280.7" fill="#fff" stroke="none" stroke-width="0.00" stroke-linejoin="round"/>
<line x1="615.4" y1="289.8" x2="621.6" y2="286.5" stroke="#2e2e2e" stroke-width="1.06" stroke-linecap="butt"/>
<line x1="610.4" y1="280.7" x2="616.6" y2="277.4" stroke="#2e2e2e" stroke-width="1.06" stroke-linecap="butt"/>
<line x1="614.4" y1="290.1" x2="620.6" y2="286.7" stroke="#2e2e2e" stroke-width="1.18" stroke-linecap="butt"/>
<line x1="612.2" y1="289.2" x2="618.3" y2="285.8" stroke="#2e2e2e" stroke-width="1.18" stroke-linecap="butt"/>
<line x1="610.2" y1="286.8" x2="616.3" y2="283.4" stroke="#2e2e2e" stroke-width="1.18" stroke-linecap="butt"/>
<line x1="609.2" y1="283.8" x2="615.4" y2="280.4" stroke="#2e2e2e" stroke-width="1.18" stroke-linecap="butt"/>
<line x1="609.7" y1="281.4" x2="615.9" y2="278.0" stroke="#2e2e2e" stroke-width="1.18" stroke-linecap="butt"/>
<ellipse cx="619.1" cy="281.9" rx="3.1" ry="5.2" transform="rotate(-28.5 619.1 281.9)" fill="#fff" stroke="#2e2e2e" stroke-width="1.06"/>
<path d="M618.5 273 L621 263.5 L626 259.3 L632 261 L637.5 264.5 L639.6 271 L639.3 286.5 L634 290.8 L628.5 288 L628 279 L622.5 283.5 L618.5 281 Z" fill="#fff" stroke="#2e2e2e" stroke-width="1.18" stroke-linejoin="round" stroke-linecap="round"/>
<path d="M621 263.5 L626.5 266.5 L632 261 M626.5 266.5 L627 274 L628 279 M627 274 L634 269 L637.5 264.5 M634 269 L634 290.8" fill="none" stroke="#2e2e2e" stroke-width="0.94" stroke-linejoin="round" stroke-linecap="round"/>
<ellipse cx="630.0" cy="266.3" rx="1.6" ry="2.0" transform="rotate(0 630.0 266.3)" fill="#fff" stroke="#2e2e2e" stroke-width="0.83"/>
<path d="M622 270 Q624 268 626 270.5" fill="none" stroke="#2e2e2e" stroke-width="0.83" stroke-linejoin="round" stroke-linecap="round"/>
<ellipse cx="647.7" cy="267.3" rx="3.8" ry="4.8" transform="rotate(-28.5 647.7 267.3)" fill="#fff" stroke="#2e2e2e" stroke-width="1.42"/>
<ellipse cx="647.9" cy="267.2" rx="1.8" ry="2.6" transform="rotate(-28.5 647.9 267.2)" fill="#fff" stroke="#2e2e2e" stroke-width="0.94"/>
<path d="M655.5 257 L659 253.8 L664 254.8 L666 259.5 L664.5 264.5 L659.5 265.5 L655.8 262.5 Z" fill="#fff" stroke="#2e2e2e" stroke-width="1.18" stroke-linejoin="round" stroke-linecap="round"/>
<ellipse cx="660.6" cy="259.8" rx="2.6" ry="3.6" transform="rotate(-28.5 660.6 259.8)" fill="#fff" stroke="#2e2e2e" stroke-width="1.06"/>
<line x1="659.0" y1="254.0" x2="659.3" y2="265.3" stroke="#2e2e2e" stroke-width="0.83" stroke-linecap="butt"/>
<line x1="663.8" y1="255.0" x2="664.2" y2="264.3" stroke="#2e2e2e" stroke-width="0.83" stroke-linecap="butt"/>
<line x1="497.0" y1="404.5" x2="508.0" y2="411.5" stroke="#2e2e2e" stroke-width="0.94" stroke-dasharray="8 3" stroke-linecap="butt"/>
<ellipse cx="521.0" cy="421.3" rx="5.4" ry="10.6" transform="rotate(29 521.0 421.3)" fill="#fff" stroke="#2e2e2e" stroke-width="1.18"/>
<ellipse cx="519.0" cy="420.2" rx="6.0" ry="11.4" transform="rotate(29 519.0 420.2)" fill="#fff" stroke="#2e2e2e" stroke-width="1.18"/>
<ellipse cx="516.5" cy="418.8" rx="6.2" ry="11.8" transform="rotate(29 516.5 418.8)" fill="#fff" stroke="#2e2e2e" stroke-width="1.42"/>
<ellipse cx="514.8" cy="417.9" rx="6.2" ry="11.8" transform="rotate(29 514.8 417.9)" fill="#fff" stroke="#2e2e2e" stroke-width="1.18"/>
<ellipse cx="512.8" cy="416.9" rx="5.6" ry="10.8" transform="rotate(29 512.8 416.9)" fill="#fff" stroke="#2e2e2e" stroke-width="1.18"/>
<ellipse cx="512.8" cy="416.9" rx="3.0" ry="6.2" transform="rotate(29 512.8 416.9)" fill="#fff" stroke="#2e2e2e" stroke-width="0.94"/>
<path d="M533.5 421.5 L581 439.9 L585 433.5 Q592 431 601 434 Q603.5 437.5 601.5 443.3 L596 447.5 L600.5 452 L601 470 L605.5 474.5 Q609.5 479.5 607.5 485.5 Q604.5 491.5 596 491.5 L588 487.5 Q580.5 484.5 577.5 477 L575.5 462.8 L571.9 462.6 L528.7 441 Q526.5 437 527.5 430.5 Q529 424 533.5 421.5 Z" fill="#fff" stroke="#2e2e2e" stroke-width="1.18" stroke-linejoin="round" stroke-linecap="round"/>
<path d="M533.5 421.5 Q537.5 424 536 432 Q534 439.5 528.7 441" fill="none" stroke="#2e2e2e" stroke-width="1.06" stroke-linejoin="round" stroke-linecap="round"/>
<path d="M527.8 428 L524.8 427.5 L524.2 434.5 L527.2 435.5" fill="none" stroke="#2e2e2e" stroke-width="0.94" stroke-linejoin="round" stroke-linecap="round"/>
<path d="M529.5 425.5 L527 423 L530 420.5" fill="none" stroke="#2e2e2e" stroke-width="0.83" stroke-linejoin="round" stroke-linecap="round"/>
<polyline points="551.0,428.3 556.0,421.5 558.5,431.2" fill="none" stroke="#2e2e2e" stroke-width="1.06" stroke-linejoin="round"/>
<polyline points="563.0,433.0 568.5,427.5 571.0,436.0" fill="none" stroke="#2e2e2e" stroke-width="1.06" stroke-linejoin="round"/>
<polyline points="574.0,437.2 578.5,432.5 581.0,439.9" fill="none" stroke="#2e2e2e" stroke-width="1.06" stroke-linejoin="round"/>
<path d="M581 439.9 Q578 447 578.5 455 L575.5 462.8" fill="none" stroke="#2e2e2e" stroke-width="1.06" stroke-linejoin="round" stroke-linecap="round"/>
<ellipse cx="592.0" cy="437.8" rx="6.4" ry="3.4" transform="rotate(8 592.0 437.8)" fill="#fff" stroke="#2e2e2e" stroke-width="1.06"/>
<ellipse cx="592.0" cy="437.8" rx="3.4" ry="1.8" transform="rotate(8 592.0 437.8)" fill="#777" stroke="#2e2e2e" stroke-width="0.94"/>
<ellipse cx="587.0" cy="463.5" rx="7.2" ry="13.0" transform="rotate(24 587.0 463.5)" fill="#fff" stroke="#2e2e2e" stroke-width="1.18"/>
<ellipse cx="587.3" cy="463.6" rx="5.6" ry="11.0" transform="rotate(24 587.3 463.6)" fill="#fff" stroke="#555" stroke-width="1.89"/>
<ellipse cx="587.6" cy="463.7" rx="4.0" ry="8.6" transform="rotate(24 587.6 463.7)" fill="#fff" stroke="#2e2e2e" stroke-width="0.94"/>
<path d="M596 447.5 Q597.5 456 596.5 464 L601 470" fill="none" stroke="#2e2e2e" stroke-width="0.94" stroke-linejoin="round" stroke-linecap="round"/>
<path d="M588 487.5 L591.5 479.5 L598 476 L605.5 474.5" fill="none" stroke="#2e2e2e" stroke-width="0.94" stroke-linejoin="round" stroke-linecap="round"/>
<ellipse cx="599.5" cy="484.3" rx="2.2" ry="1.8" transform="rotate(0 599.5 484.3)" fill="#fff" stroke="#2e2e2e" stroke-width="0.94"/>
<path d="M594.5 470.5 L597 473.5 L596.5 477.5 M593.5 472 L593 477.5" fill="none" stroke="#2e2e2e" stroke-width="0.94" stroke-linejoin="round" stroke-linecap="round"/>
<path d="M585 408 L587.5 405 L593 404.8 L595.8 407.5 L595.5 412.5 L592.5 415.5 L587.5 415.3 L585 412.5 Z" fill="#fff" stroke="#2e2e2e" stroke-width="1.18" stroke-linejoin="round" stroke-linecap="round"/>
<path d="M585 408 L589.5 409.5 L595.8 407.5 M589.5 409.5 L589.8 415.3 M587.5 405 L592 407" fill="none" stroke="#2e2e2e" stroke-width="0.94" stroke-linejoin="round" stroke-linecap="round"/>
<line x1="600.6" y1="403.2" x2="609.3" y2="396.8" stroke="#555" stroke-width="2.60" stroke-linecap="butt"/>
<line x1="601.5" y1="402.6" x2="608.5" y2="397.4" stroke="#ddd" stroke-width="0.71" stroke-linecap="butt"/>
<path d="M586.5 421 Q587 417.8 591.5 417.5 Q596 417.8 596.3 421 L596 427 Q595.5 429.8 591.3 430 Q587 429.8 586.6 427 Z" fill="#fff" stroke="#2e2e2e" stroke-width="1.18" stroke-linejoin="round" stroke-linecap="round"/>
<path d="M586.6 423.5 Q591.3 426 596.2 423.5 M588.5 418.5 Q591.5 420.5 594.5 418.5" fill="none" stroke="#2e2e2e" stroke-width="1.06" stroke-linejoin="round" stroke-linecap="round"/>
<line x1="591.4" y1="430.0" x2="591.8" y2="434.0" stroke="#2e2e2e" stroke-width="0.94" stroke-linecap="butt"/>
<path d="M613.4 443.5 L617.8000000000001 443.5 L618.0 450.5 L622.8000000000001 454.5 L622.8000000000001 467.5 Q621.8000000000001 471.5 615.6 471.5 Q609.4 471.5 608.4 467.5 L608.4 454.5 L613.2 450.5 Z" fill="#fff" stroke="#2e2e2e" stroke-width="1.18" stroke-linejoin="round" stroke-linecap="round"/>
<line x1="613.4" y1="445.5" x2="617.8" y2="445.5" stroke="#2e2e2e" stroke-width="0.83" stroke-linecap="butt"/>
<line x1="613.4" y1="447.5" x2="617.8" y2="447.5" stroke="#2e2e2e" stroke-width="0.83" stroke-linecap="butt"/>
<path d="M608.4 456.5 Q615.6 459.5 622.8000000000001 456.5" fill="none" stroke="#2e2e2e" stroke-width="1.18" stroke-linejoin="round" stroke-linecap="round"/>
<path d="M608.4 460.5 Q615.6 463.5 622.8000000000001 460.5" fill="none" stroke="#2e2e2e" stroke-width="1.18" stroke-linejoin="round" stroke-linecap="round"/>
<path d="M608.4 463.5 Q615.6 466.5 622.8000000000001 463.5" fill="none" stroke="#2e2e2e" stroke-width="1.06" stroke-linejoin="round" stroke-linecap="round"/>
<path d="M609.4 454.0 Q615.6 451.5 621.8000000000001 454.0" fill="none" stroke="#2e2e2e" stroke-width="0.94" stroke-linejoin="round" stroke-linecap="round"/>
<path d="M609 442 L612.5 441.5 L612.8 444" fill="none" stroke="#2e2e2e" stroke-width="0.94" stroke-linejoin="round" stroke-linecap="round"/>
<path d="M601.3 500.5 L605.7 500.5 L605.9 507.5 L610.3 511.5 L610.3 524.3 Q609.3 528.3 603.5 528.3 Q597.7 528.3 596.7 524.3 L596.7 511.5 L601.1 507.5 Z" fill="#fff" stroke="#2e2e2e" stroke-width="1.18" stroke-linejoin="round" stroke-linecap="round"/>
<line x1="601.3" y1="502.5" x2="605.7" y2="502.5" stroke="#2e2e2e" stroke-width="0.83" stroke-linecap="butt"/>
<line x1="601.3" y1="504.5" x2="605.7" y2="504.5" stroke="#2e2e2e" stroke-width="0.83" stroke-linecap="butt"/>
<path d="M596.7 513.5 Q603.5 516.5 610.3 513.5" fill="none" stroke="#2e2e2e" stroke-width="1.18" stroke-linejoin="round" stroke-linecap="round"/>
<path d="M596.7 517.5 Q603.5 520.5 610.3 517.5" fill="none" stroke="#2e2e2e" stroke-width="1.18" stroke-linejoin="round" stroke-linecap="round"/>
<path d="M596.7 520.5 Q603.5 523.5 610.3 520.5" fill="none" stroke="#2e2e2e" stroke-width="1.06" stroke-linejoin="round" stroke-linecap="round"/>
<path d="M597.7 511.0 Q603.5 508.5 609.3 511.0" fill="none" stroke="#2e2e2e" stroke-width="0.94" stroke-linejoin="round" stroke-linecap="round"/>
<path d="M610.8 534.2 Q609.5 531.8 605.5 532 Q600.8 532.5 600.8 535.5 Q601.2 538.5 606.3 538.6 Q611 538.2 611.3 536" fill="none" stroke="#2e2e2e" stroke-width="1.42" stroke-linejoin="round" stroke-linecap="round"/>
<path d="M644 525.8 Q644.3 524.2 647.2 524 Q650.2 524.2 650.5 525.8 L650.8 530.8 Q650.3 532.6 647.3 532.7 Q644.3 532.6 643.8 530.8 Z" fill="#666" stroke="#2e2e2e" stroke-width="1.06" stroke-linejoin="round" stroke-linecap="round"/>
<ellipse cx="647.2" cy="526.0" rx="2.8" ry="1.4" transform="rotate(0 647.2 526.0)" fill="#fff" stroke="#2e2e2e" stroke-width="0.83"/>
<line x1="631.0" y1="530.2" x2="639.5" y2="528.3" stroke="#555" stroke-width="2.36" stroke-linecap="butt"/>
<ellipse cx="630.5" cy="530.3" rx="1.3" ry="2.0" transform="rotate(-10 630.5 530.3)" fill="#777" stroke="#2e2e2e" stroke-width="0.83"/>
<path d="M578.5 535.2 Q576.5 536 577 539 L578 542.5 L640 577.5 Q641.5 583 645.5 586 Q650 589 653.5 586 Q656 582.5 654.5 577.5 Q652.5 573.2 648 573.5 L645 573.8 L637 570.5 L582.5 535.8 Z" fill="#fff" stroke="#2e2e2e" stroke-width="1.18" stroke-linejoin="round" stroke-linecap="round"/>
<line x1="578.3" y1="538.5" x2="581.5" y2="540.2" stroke="#2e2e2e" stroke-width="0.83" stroke-linecap="butt"/>
<path d="M644.8 573.8 L644.8 564 Q645 562.3 647.7 562.3 Q650.3 562.3 650.6 564 L650.8 573.3" fill="#fff" stroke="#2e2e2e" stroke-width="1.06" stroke-linejoin="round" stroke-linecap="round"/>
<line x1="644.8" y1="566.0" x2="650.6" y2="566.0" stroke="#2e2e2e" stroke-width="0.83" stroke-linecap="butt"/>
<line x1="644.8" y1="568.5" x2="650.7" y2="568.5" stroke="#2e2e2e" stroke-width="0.83" stroke-linecap="butt"/>
<path d="M640.3 578.5 Q647 582 654.5 578" fill="none" stroke="#2e2e2e" stroke-width="1.06" stroke-linejoin="round" stroke-linecap="round"/>
<path d="M641.8 582.5 Q648 585.8 655 581.5" fill="none" stroke="#2e2e2e" stroke-width="0.94" stroke-linejoin="round" stroke-linecap="round"/>
<path d="M672.5 495.5 Q671 490 675.5 488.2 L684 486.3 Q690 485.5 696 487.3 L702.5 490.5 Q705 493 704.3 497 L703.5 504.5 L706.5 508.5 L708 520 L706.5 536 L702 543 L699 553 L692 554.5 L688.5 549 L681.5 552.8 L675 550.5 L673.8 545.5 L664 544.5 L641 553.5 L632 556.8 Q625.5 557.5 623.5 553 Q622.5 547.5 627.5 545.2 L634.5 544.8 L656.5 537.5 Q666 533.5 671.5 526 L675.5 516.5 L676 508 Z" fill="#fff" stroke="#2e2e2e" stroke-width="1.18" stroke-linejoin="round" stroke-linecap="round"/>
<ellipse cx="683.0" cy="493.2" rx="4.2" ry="3.6" transform="rotate(0 683.0 493.2)" fill="#fff" stroke="#2e2e2e" stroke-width="1.06"/>
<path d="M672.5 495.5 L680 500 L690.5 500.5 L690.5 507.5 M690.5 500.5 L695 496.5 L704.3 497 M695 496.5 L695.3 489" fill="none" stroke="#2e2e2e" stroke-width="0.94" stroke-linejoin="round" stroke-linecap="round"/>
<path d="M676 508 L684 510.5 L690.5 507.5 M680 500 L679.5 509" fill="none" stroke="#2e2e2e" stroke-width="0.94" stroke-linejoin="round" stroke-linecap="round"/>
<ellipse cx="696.8" cy="524.8" rx="8.6" ry="14.6" transform="rotate(15 696.8 524.8)" fill="#fff" stroke="#2e2e2e" stroke-width="1.18"/>
<ellipse cx="697.3" cy="525.0" rx="6.8" ry="12.2" transform="rotate(15 697.3 525.0)" fill="#fff" stroke="#2e2e2e" stroke-width="1.06"/>
<ellipse cx="698.3" cy="525.3" rx="5.2" ry="10.0" transform="rotate(15 698.3 525.3)" fill="#fff" stroke="#2e2e2e" stroke-width="0.94"/>
<path d="M675.5 516.5 L684.5 521.5 L687.5 530 M671.5 526 L681 533 L686.5 541" fill="none" stroke="#2e2e2e" stroke-width="0.94" stroke-linejoin="round" stroke-linecap="round"/>
<ellipse cx="628.3" cy="551.0" rx="2.6" ry="2.2" transform="rotate(0 628.3 551.0)" fill="#fff" stroke="#2e2e2e" stroke-width="0.94"/>
<ellipse cx="636.5" cy="548.3" rx="1.8" ry="1.6" transform="rotate(0 636.5 548.3)" fill="#fff" stroke="#2e2e2e" stroke-width="0.83"/>
<path d="M634.5 544.8 L641 553.5" fill="none" stroke="#2e2e2e" stroke-width="0.83" stroke-linejoin="round" stroke-linecap="round"/>
<path d="M688.5 549 L687.5 541.5 L693 539.5 L699 541.5 M681.5 552.8 L681 545 L687.5 541.5" fill="none" stroke="#2e2e2e" stroke-width="0.94" stroke-linejoin="round" stroke-linecap="round"/>
<ellipse cx="679.0" cy="546.8" rx="1.8" ry="1.6" transform="rotate(0 679.0 546.8)" fill="#fff" stroke="#2e2e2e" stroke-width="0.83"/>
<line x1="704.5" y1="514.0" x2="711.0" y2="518.0" stroke="#444" stroke-width="2.36" stroke-linecap="butt"/>
<line x1="707.5" y1="529.5" x2="714.0" y2="534.0" stroke="#444" stroke-width="2.36" stroke-linecap="butt"/>
<line x1="690.0" y1="537.0" x2="697.0" y2="543.0" stroke="#444" stroke-width="2.36" stroke-linecap="butt"/>
<line x1="711.5" y1="532.0" x2="718.5" y2="536.8" stroke="#2e2e2e" stroke-width="0.94" stroke-linecap="butt"/>
<line x1="523.0" y1="630.0" x2="531.0" y2="634.6" stroke="#2e2e2e" stroke-width="0.94" stroke-linecap="butt"/>
<line x1="543.5" y1="641.8" x2="549.5" y2="645.2" stroke="#2e2e2e" stroke-width="0.94" stroke-linecap="butt"/>
<line x1="589.0" y1="668.2" x2="598.0" y2="673.3" stroke="#2e2e2e" stroke-width="0.94" stroke-linecap="butt"/>
<line x1="608.5" y1="679.3" x2="611.5" y2="681.0" stroke="#2e2e2e" stroke-width="0.94" stroke-linecap="butt"/>
<line x1="619.0" y1="685.5" x2="623.0" y2="687.7" stroke="#2e2e2e" stroke-width="0.94" stroke-linecap="butt"/>
<line x1="633.0" y1="693.5" x2="640.5" y2="697.8" stroke="#2e2e2e" stroke-width="0.94" stroke-linecap="butt"/>
<ellipse cx="399.9" cy="555.2" rx="1.2" ry="2.6" transform="rotate(30.5 399.9 555.2)" fill="#fff" stroke="#2e2e2e" stroke-width="1.06"/>
<polygon points="398.6,557.4 409.8,564.0 412.4,559.6 401.2,553.0" fill="#fff" stroke="none" stroke-width="0.00" stroke-linejoin="round"/>
<line x1="398.6" y1="557.4" x2="409.8" y2="564.0" stroke="#2e2e2e" stroke-width="1.06" stroke-linecap="butt"/>
<line x1="401.2" y1="553.0" x2="412.4" y2="559.6" stroke="#2e2e2e" stroke-width="1.06" stroke-linecap="butt"/>
<line x1="398.4" y1="557.3" x2="409.6" y2="563.9" stroke="#2e2e2e" stroke-width="1.06" stroke-linecap="butt"/>
<line x1="398.2" y1="556.6" x2="409.4" y2="563.2" stroke="#2e2e2e" stroke-width="1.06" stroke-linecap="butt"/>
<line x1="398.4" y1="555.6" x2="409.6" y2="562.2" stroke="#2e2e2e" stroke-width="1.06" stroke-linecap="butt"/>
<line x1="398.9" y1="554.6" x2="410.1" y2="561.2" stroke="#2e2e2e" stroke-width="1.06" stroke-linecap="butt"/>
<line x1="399.6" y1="553.7" x2="410.8" y2="560.3" stroke="#2e2e2e" stroke-width="1.06" stroke-linecap="butt"/>
<line x1="400.3" y1="553.1" x2="411.5" y2="559.7" stroke="#2e2e2e" stroke-width="1.06" stroke-linecap="butt"/>
<line x1="401.0" y1="552.9" x2="412.2" y2="559.5" stroke="#2e2e2e" stroke-width="1.06" stroke-linecap="butt"/>
<ellipse cx="411.1" cy="561.8" rx="1.2" ry="2.6" transform="rotate(30.5 411.1 561.8)" fill="#fff" stroke="#2e2e2e" stroke-width="1.06"/>
<ellipse cx="411.5" cy="562.0" rx="0.8" ry="2.0" transform="rotate(30.963756532073173 411.5 562.0)" fill="#fff" stroke="#2e2e2e" stroke-width="1.06"/>
<polygon points="410.5,563.7 416.0,567.0 418.0,563.6 412.5,560.3" fill="#fff" stroke="none" stroke-width="0.00" stroke-linejoin="round"/>
<line x1="410.5" y1="563.7" x2="416.0" y2="567.0" stroke="#2e2e2e" stroke-width="1.06" stroke-linecap="butt"/>
<line x1="412.5" y1="560.3" x2="418.0" y2="563.6" stroke="#2e2e2e" stroke-width="1.06" stroke-linecap="butt"/>
<ellipse cx="417.0" cy="565.3" rx="0.8" ry="2.0" transform="rotate(30.963756532073173 417.0 565.3)" fill="#fff" stroke="#2e2e2e" stroke-width="1.06"/>
<path d="M416.5 561.5 L429 568.5 Q433 572 433.5 577.5 Q431 582.5 426 581.8 L414.5 569 Z" fill="#fff" stroke="#2e2e2e" stroke-width="1.18" stroke-linejoin="round" stroke-linecap="round"/>
<path d="M421 564 Q418.5 568.5 420 574.5 M425 566.5 Q422.5 571.5 424.5 579" fill="none" stroke="#2e2e2e" stroke-width="0.94" stroke-linejoin="round" stroke-linecap="round"/>
<ellipse cx="430.5" cy="575.8" rx="2.8" ry="5.6" transform="rotate(30.5 430.5 575.8)" fill="#fff" stroke="#2e2e2e" stroke-width="1.06"/>
<ellipse cx="432.0" cy="576.8" rx="1.4" ry="3.6" transform="rotate(30.96375653207352 432.0 576.8)" fill="#fff" stroke="#2e2e2e" stroke-width="1.06"/>
<polygon points="430.1,579.9 435.1,582.9 438.9,576.7 433.9,573.7" fill="#fff" stroke="none" stroke-width="0.00" stroke-linejoin="round"/>
<line x1="430.1" y1="579.9" x2="435.1" y2="582.9" stroke="#2e2e2e" stroke-width="1.06" stroke-linecap="butt"/>
<line x1="433.9" y1="573.7" x2="438.9" y2="576.7" stroke="#2e2e2e" stroke-width="1.06" stroke-linecap="butt"/>
<ellipse cx="437.0" cy="579.8" rx="1.4" ry="3.6" transform="rotate(30.96375653207352 437.0 579.8)" fill="#fff" stroke="#2e2e2e" stroke-width="1.06"/>
<ellipse cx="440.5" cy="581.5" rx="3.8" ry="7.4" transform="rotate(30.5 440.5 581.5)" fill="#fff" stroke="#2e2e2e" stroke-width="1.18"/>
<ellipse cx="442.2" cy="582.5" rx="3.8" ry="7.4" transform="rotate(30.5 442.2 582.5)" fill="#fff" stroke="#2e2e2e" stroke-width="1.18"/>
<ellipse cx="443.0" cy="583.0" rx="1.7" ry="4.2" transform="rotate(30.256437163529263 443.0 583.0)" fill="#fff" stroke="#2e2e2e" stroke-width="1.06"/>
<polygon points="440.9,586.6 446.9,590.1 451.1,582.9 445.1,579.4" fill="#fff" stroke="none" stroke-width="0.00" stroke-linejoin="round"/>
<line x1="440.9" y1="586.6" x2="446.9" y2="590.1" stroke="#2e2e2e" stroke-width="1.06" stroke-linecap="butt"/>
<line x1="445.1" y1="579.4" x2="451.1" y2="582.9" stroke="#2e2e2e" stroke-width="1.06" stroke-linecap="butt"/>
<ellipse cx="449.0" cy="586.5" rx="1.7" ry="4.2" transform="rotate(30.256437163529263 449.0 586.5)" fill="#fff" stroke="#2e2e2e" stroke-width="1.06"/>
<ellipse cx="451.5" cy="588.0" rx="5.0" ry="10.2" transform="rotate(30.5 451.5 588.0)" fill="#fff" stroke="#2e2e2e" stroke-width="1.18"/>
<ellipse cx="453.3" cy="589.0" rx="5.0" ry="10.2" transform="rotate(30.5 453.3 589.0)" fill="#fff" stroke="#2e2e2e" stroke-width="1.18"/>
<path d="M456 586 L463 581.8 L478 589.3 L489.5 596 Q493.5 599.5 492 605.5 L489.5 613 Q486 617.5 480 615.5 L467.5 611 L457 604.5 Q452 599 453.5 592.5 Z" fill="#fff" stroke="#2e2e2e" stroke-width="1.18" stroke-linejoin="round" stroke-linecap="round"/>
<path d="M463 581.8 Q459.5 588 461.5 596 L457 604.5 M461.5 596 L472 601.5 L478 589.3 M472 601.5 L472.5 613" fill="none" stroke="#2e2e2e" stroke-width="1.06" stroke-linejoin="round" stroke-linecap="round"/>
<ellipse cx="467.3" cy="589.8" rx="3.2" ry="4.4" transform="rotate(30.5 467.3 589.8)" fill="#fff" stroke="#2e2e2e" stroke-width="1.06"/>
<ellipse cx="466.0" cy="600.8" rx="2.8" ry="3.8" transform="rotate(30.5 466.0 600.8)" fill="#fff" stroke="#2e2e2e" stroke-width="0.94"/>
<path d="M478 589.3 Q474.5 596 476.5 604.5 L480 615.5 M476.5 604.5 L489.5 613" fill="none" stroke="#2e2e2e" stroke-width="0.94" stroke-linejoin="round" stroke-linecap="round"/>
<ellipse cx="483.8" cy="603.5" rx="4.4" ry="7.0" transform="rotate(30.5 483.8 603.5)" fill="#fff" stroke="#2e2e2e" stroke-width="1.06"/>
<path d="M468 583.5 L473.5 586.3 L472.8 590 M458.5 598.5 L463 602 L462.5 607" fill="none" stroke="#2e2e2e" stroke-width="0.94" stroke-linejoin="round" stroke-linecap="round"/>
<circle cx="463.5" cy="585.5" r="0.9" fill="#444"/>
<circle cx="470.5" cy="593.0" r="0.9" fill="#444"/>
<circle cx="459.0" cy="594.5" r="0.9" fill="#444"/>
<circle cx="466.0" cy="606.5" r="0.9" fill="#444"/>
<path d="M463.5 592 L470 596 M460.5 600 L468 604.5 M474 595 L476 606 M481 597 L487.5 601.5 M480 608 L486.5 611.5 M469 584.5 L476 589" fill="none" stroke="#2e2e2e" stroke-width="1.18" stroke-linejoin="round" stroke-linecap="round"/>
<ellipse cx="491.0" cy="608.2" rx="1.5" ry="3.8" transform="rotate(30.256437163529263 491.0 608.2)" fill="#fff" stroke="#2e2e2e" stroke-width="1.06"/>
<polygon points="489.1,611.5 495.1,615.0 498.9,608.4 492.9,604.9" fill="#fff" stroke="none" stroke-width="0.00" stroke-linejoin="round"/>
<line x1="489.1" y1="611.5" x2="495.1" y2="615.0" stroke="#2e2e2e" stroke-width="1.06" stroke-linecap="butt"/>
<line x1="492.9" y1="604.9" x2="498.9" y2="608.4" stroke="#2e2e2e" stroke-width="1.06" stroke-linecap="butt"/>
<ellipse cx="497.0" cy="611.7" rx="1.5" ry="3.8" transform="rotate(30.256437163529263 497.0 611.7)" fill="#fff" stroke="#2e2e2e" stroke-width="1.06"/>
<ellipse cx="499.0" cy="612.9" rx="2.1" ry="4.6" transform="rotate(30.5 499.0 612.9)" fill="#fff" stroke="#2e2e2e" stroke-width="1.06"/>
<polygon points="496.6,616.8 514.7,627.5 519.4,619.6 501.3,608.9" fill="#fff" stroke="none" stroke-width="0.00" stroke-linejoin="round"/>
<line x1="496.6" y1="616.8" x2="514.7" y2="627.5" stroke="#2e2e2e" stroke-width="1.06" stroke-linecap="butt"/>
<line x1="501.3" y1="608.9" x2="519.4" y2="619.6" stroke="#2e2e2e" stroke-width="1.06" stroke-linecap="butt"/>
<line x1="496.3" y1="616.6" x2="514.4" y2="627.2" stroke="#2e2e2e" stroke-width="0.94" stroke-linecap="butt"/>
<line x1="496.0" y1="615.6" x2="514.1" y2="626.2" stroke="#2e2e2e" stroke-width="0.94" stroke-linecap="butt"/>
<line x1="496.2" y1="614.2" x2="514.3" y2="624.9" stroke="#2e2e2e" stroke-width="0.94" stroke-linecap="butt"/>
<line x1="496.7" y1="612.6" x2="514.8" y2="623.3" stroke="#2e2e2e" stroke-width="0.94" stroke-linecap="butt"/>
<line x1="497.7" y1="611.1" x2="515.8" y2="621.7" stroke="#2e2e2e" stroke-width="0.94" stroke-linecap="butt"/>
<line x1="498.8" y1="609.8" x2="516.9" y2="620.5" stroke="#2e2e2e" stroke-width="0.94" stroke-linecap="butt"/>
<line x1="499.9" y1="609.0" x2="518.0" y2="619.6" stroke="#2e2e2e" stroke-width="0.94" stroke-linecap="butt"/>
<line x1="500.9" y1="608.8" x2="519.0" y2="619.4" stroke="#2e2e2e" stroke-width="0.94" stroke-linecap="butt"/>
<ellipse cx="517.0" cy="623.5" rx="2.1" ry="4.6" transform="rotate(30.5 517.0 623.5)" fill="#fff" stroke="#2e2e2e" stroke-width="1.06"/>
<path d="M505 611 Q503 615 504 620.5" fill="none" stroke="#2e2e2e" stroke-width="0.94" stroke-linejoin="round" stroke-linecap="round"/>
<ellipse cx="518.5" cy="624.5" rx="2.6" ry="4.8" transform="rotate(30.5 518.5 624.5)" fill="#fff" stroke="#2e2e2e" stroke-width="1.06"/>
<ellipse cx="536.5" cy="637.8" rx="8.2" ry="13.0" transform="rotate(30.5 536.5 637.8)" fill="#fff" stroke="#2e2e2e" stroke-width="1.18"/>
<ellipse cx="537.2" cy="638.2" rx="5.4" ry="9.0" transform="rotate(30.5 537.2 638.2)" fill="#fff" stroke="#444" stroke-width="1.65"/>
<ellipse cx="537.6" cy="638.4" rx="3.6" ry="6.4" transform="rotate(30.5 537.6 638.4)" fill="#fff" stroke="#2e2e2e" stroke-width="0.94"/>
<path d="M530.5 628.5 L534 626.3" fill="none" stroke="#2e2e2e" stroke-width="0.94" stroke-linejoin="round" stroke-linecap="round"/>
<ellipse cx="556.0" cy="651.5" rx="9.5" ry="17.0" transform="rotate(30.5 556.0 651.5)" fill="#fff" stroke="#2e2e2e" stroke-width="1.18"/>
<ellipse cx="559.5" cy="653.5" rx="9.5" ry="17.0" transform="rotate(30.5 559.5 653.5)" fill="#fff" stroke="#2e2e2e" stroke-width="1.18"/>
<ellipse cx="563.5" cy="655.5" rx="9.0" ry="16.0" transform="rotate(30.5 563.5 655.5)" fill="#fff" stroke="#2e2e2e" stroke-width="1.18"/>
<ellipse cx="573.5" cy="661.3" rx="11.2" ry="20.0" transform="rotate(30.5 573.5 661.3)" fill="#fff" stroke="#2e2e2e" stroke-width="1.18"/>
<ellipse cx="576.5" cy="663.0" rx="11.2" ry="20.0" transform="rotate(30.5 576.5 663.0)" fill="#fff" stroke="#2e2e2e" stroke-width="1.18"/>
<ellipse cx="577.3" cy="663.4" rx="8.0" ry="15.0" transform="rotate(30.5 577.3 663.4)" fill="#fff" stroke="#2e2e2e" stroke-width="1.30"/>
<ellipse cx="577.8" cy="663.7" rx="6.2" ry="12.2" transform="rotate(30.5 577.8 663.7)" fill="#fff" stroke="#555" stroke-width="1.77"/>
<ellipse cx="578.3" cy="664.0" rx="4.6" ry="9.6" transform="rotate(30.5 578.3 664.0)" fill="#fff" stroke="#2e2e2e" stroke-width="0.94"/>
<circle cx="569.5" cy="646.0" r="0.9" fill="#444"/>
<circle cx="586.5" cy="650.5" r="0.9" fill="#444"/>
<circle cx="590.0" cy="668.5" r="0.9" fill="#444"/>
<circle cx="581.5" cy="680.0" r="0.9" fill="#444"/>
<circle cx="566.5" cy="676.5" r="0.9" fill="#444"/>
<circle cx="564.0" cy="657.0" r="0.9" fill="#444"/>
<line x1="468.2" y1="661.7" x2="479.6" y2="668.5" stroke="#2e2e2e" stroke-width="0.94" stroke-linecap="butt"/>
<line x1="505.5" y1="683.5" x2="510.5" y2="686.5" stroke="#2e2e2e" stroke-width="0.94" stroke-linecap="butt"/>
<ellipse cx="489.9" cy="673.7" rx="8.5" ry="15.5" transform="rotate(30.5 489.9 673.7)" fill="#fff" stroke="#2e2e2e" stroke-width="1.06"/>
<polygon points="482.0,687.0 487.2,690.1 503.0,663.4 497.8,660.3" fill="#fff" stroke="none" stroke-width="0.00" stroke-linejoin="round"/>
<line x1="482.0" y1="687.0" x2="487.2" y2="690.1" stroke="#2e2e2e" stroke-width="1.06" stroke-linecap="butt"/>
<line x1="497.8" y1="660.3" x2="503.0" y2="663.4" stroke="#2e2e2e" stroke-width="1.06" stroke-linecap="butt"/>
<line x1="481.2" y1="686.4" x2="486.4" y2="689.5" stroke="#2e2e2e" stroke-width="1.42" stroke-linecap="butt"/>
<line x1="480.0" y1="684.6" x2="485.1" y2="687.7" stroke="#2e2e2e" stroke-width="1.42" stroke-linecap="butt"/>
<line x1="479.3" y1="682.2" x2="484.4" y2="685.3" stroke="#2e2e2e" stroke-width="1.42" stroke-linecap="butt"/>
<line x1="479.2" y1="679.3" x2="484.4" y2="682.3" stroke="#2e2e2e" stroke-width="1.42" stroke-linecap="butt"/>
<line x1="479.8" y1="676.1" x2="484.9" y2="679.1" stroke="#2e2e2e" stroke-width="1.42" stroke-linecap="butt"/>
<line x1="480.9" y1="672.7" x2="486.1" y2="675.7" stroke="#2e2e2e" stroke-width="1.42" stroke-linecap="butt"/>
<line x1="482.6" y1="669.4" x2="487.7" y2="672.4" stroke="#2e2e2e" stroke-width="1.42" stroke-linecap="butt"/>
<line x1="484.7" y1="666.3" x2="489.8" y2="669.3" stroke="#2e2e2e" stroke-width="1.42" stroke-linecap="butt"/>
<line x1="487.1" y1="663.6" x2="492.2" y2="666.7" stroke="#2e2e2e" stroke-width="1.42" stroke-linecap="butt"/>
<line x1="489.6" y1="661.6" x2="494.8" y2="664.6" stroke="#2e2e2e" stroke-width="1.42" stroke-linecap="butt"/>
<line x1="492.2" y1="660.2" x2="497.4" y2="663.3" stroke="#2e2e2e" stroke-width="1.42" stroke-linecap="butt"/>
<line x1="494.7" y1="659.7" x2="499.8" y2="662.7" stroke="#2e2e2e" stroke-width="1.42" stroke-linecap="butt"/>
<line x1="496.8" y1="659.9" x2="502.0" y2="662.9" stroke="#2e2e2e" stroke-width="1.42" stroke-linecap="butt"/>
<ellipse cx="495.1" cy="676.7" rx="8.5" ry="15.5" transform="rotate(30.5 495.1 676.7)" fill="#fff" stroke="#2e2e2e" stroke-width="1.06"/>
<ellipse cx="495.1" cy="676.7" rx="8.5" ry="15.5" transform="rotate(30.5 495.1 676.7)" fill="#fff" stroke="#2e2e2e" stroke-width="1.18"/>
<ellipse cx="495.4" cy="676.9" rx="6.4" ry="12.2" transform="rotate(30.5 495.4 676.9)" fill="#fff" stroke="#2e2e2e" stroke-width="1.18"/>
<ellipse cx="495.4" cy="676.9" rx="1.6" ry="2.6" transform="rotate(30.5 495.4 676.9)" fill="#fff" stroke="#2e2e2e" stroke-width="0.94"/>
<line x1="495.4" y1="676.9" x2="491.0" y2="666.0" stroke="#2e2e2e" stroke-width="1.89" stroke-linecap="butt"/>
<line x1="495.4" y1="676.9" x2="502.0" y2="675.0" stroke="#2e2e2e" stroke-width="1.89" stroke-linecap="butt"/>
<line x1="495.4" y1="676.9" x2="493.5" y2="688.5" stroke="#2e2e2e" stroke-width="1.89" stroke-linecap="butt"/>
<ellipse cx="603.5" cy="676.8" rx="4.4" ry="6.6" transform="rotate(30.5 603.5 676.8)" fill="#fff" stroke="#2e2e2e" stroke-width="1.18"/>
<ellipse cx="603.7" cy="676.9" rx="2.2" ry="3.6" transform="rotate(30.5 603.7 676.9)" fill="#fff" stroke="#2e2e2e" stroke-width="0.94"/>
<path d="M610.5 682 L613 679.5 L617.5 680.3 L619.3 684.3 L617.8 689 L613.3 690 L610.5 686.8 Z" fill="#fff" stroke="#2e2e2e" stroke-width="1.18" stroke-linejoin="round" stroke-linecap="round"/>
<ellipse cx="615.0" cy="684.8" rx="2.2" ry="3.0" transform="rotate(30.5 615.0 684.8)" fill="#fff" stroke="#2e2e2e" stroke-width="1.06"/>
<line x1="613.0" y1="679.6" x2="613.3" y2="689.8" stroke="#2e2e2e" stroke-width="0.83" stroke-linecap="butt"/>
<ellipse cx="628.2" cy="693.3" rx="4.6" ry="7.4" transform="rotate(30.5 628.2 693.3)" fill="#fff" stroke="#2e2e2e" stroke-width="1.42"/>
<ellipse cx="628.6" cy="693.5" rx="2.8" ry="5.0" transform="rotate(30.5 628.6 693.5)" fill="#fff" stroke="#2e2e2e" stroke-width="0.94"/>
<path d="M640 700 L644 694.5 L651 694.8 L655.3 699.5 L655.5 708 L651.5 713 L644.5 713.5 L640 709.5 Z" fill="#fff" stroke="#2e2e2e" stroke-width="1.18" stroke-linejoin="round" stroke-linecap="round"/>
<path d="M640 700 L645.8 702 L651 694.8 M645.8 702 L646.2 713.4 M645.8 702 L652 704.5 L655.3 699.5 M652 704.5 L651.5 713" fill="none" stroke="#2e2e2e" stroke-width="1.06" stroke-linejoin="round" stroke-linecap="round"/>
<path d="M642 704.5 L646 706 M647.5 708 L651.7 708.7 M642 707.5 L646 709.5" fill="none" stroke="#2e2e2e" stroke-width="0.94" stroke-linejoin="round" stroke-linecap="round"/>
<line x1="624.8" y1="727.8" x2="636.8" y2="719.2" stroke="#555" stroke-width="2.83" stroke-linecap="butt"/>
<line x1="626.0" y1="727.0" x2="636.0" y2="719.8" stroke="#e5e5e5" stroke-width="0.83" stroke-linecap="butt"/>
<ellipse cx="624.3" cy="728.2" rx="1.6" ry="2.0" transform="rotate(0 624.3 728.2)" fill="#fff" stroke="#2e2e2e" stroke-width="0.94"/>
<text x="492" y="70.2" font-size="14.3" text-anchor="middle" fill="#111" stroke="#111" stroke-width="0.3" textLength="239" lengthAdjust="spacingAndGlyphs">DANA 30 Disconnect Front Axle</text>
<text x="489.5" y="93.3" font-size="14.3" text-anchor="middle" fill="#111" stroke="#111" stroke-width="0.3" textLength="193.5" lengthAdjust="spacingAndGlyphs">1984 to 1996 Jeep XJ, YJ</text>
<text x="96.4" y="52.4" font-size="10.8" text-anchor="middle" fill="#222" stroke="#222" stroke-width="0.25">52</text>
<text x="117.3" y="65.4" font-size="10.8" text-anchor="middle" fill="#222" stroke="#222" stroke-width="0.25">53</text>
<text x="212.9" y="26.7" font-size="10.8" text-anchor="middle" fill="#222" stroke="#222" stroke-width="0.25">54</text>
<text x="226.1" y="43.7" font-size="10.8" text-anchor="middle" fill="#222" stroke="#222" stroke-width="0.25">55</text>
<text x="229.3" y="64.2" font-size="10.8" text-anchor="middle" fill="#222" stroke="#222" stroke-width="0.25">57</text>
<text x="231.1" y="84.3" font-size="10.8" text-anchor="middle" fill="#222" stroke="#222" stroke-width="0.25">59</text>
<text x="114.6" y="93.4" font-size="10.8" text-anchor="middle" fill="#222" stroke="#222" stroke-width="0.25">56</text>
<text x="231.1" y="101.4" font-size="10.8" text-anchor="middle" fill="#222" stroke="#222" stroke-width="0.25">60</text>
<text x="113.4" y="113.7" font-size="10.8" text-anchor="middle" fill="#222" stroke="#222" stroke-width="0.25">58</text>
<text x="228.8" y="121.0" font-size="10.8" text-anchor="middle" fill="#222" stroke="#222" stroke-width="0.25">61</text>
<text x="229.3" y="137.6" font-size="10.8" text-anchor="middle" fill="#222" stroke="#222" stroke-width="0.25">62</text>
<text x="230.0" y="153.6" font-size="10.8" text-anchor="middle" fill="#222" stroke="#222" stroke-width="0.25">63</text>
<text x="29.3" y="170.1" font-size="10.8" text-anchor="middle" fill="#222" stroke="#222" stroke-width="0.25">64</text>
<text x="194.4" y="273.6" font-size="10.8" text-anchor="middle" fill="#222" stroke="#222" stroke-width="0.25">67</text>
<text x="245.9" y="304.9" font-size="10.8" text-anchor="middle" fill="#222" stroke="#222" stroke-width="0.25">68</text>
<text x="423.6" y="288.0" font-size="10.8" text-anchor="middle" fill="#222" stroke="#222" stroke-width="0.25">1</text>
<text x="493.4" y="314.0" font-size="10.8" text-anchor="middle" fill="#222" stroke="#222" stroke-width="0.25">7</text>
<text x="518.1" y="298.4" font-size="10.8" text-anchor="middle" fill="#222" stroke="#222" stroke-width="0.25">8</text>
<text x="540.9" y="286.8" font-size="10.8" text-anchor="middle" fill="#222" stroke="#222" stroke-width="0.25">9</text>
<text x="560.4" y="280.3" font-size="10.8" text-anchor="middle" fill="#222" stroke="#222" stroke-width="0.25">10</text>
<text x="577.9" y="270.0" font-size="10.8" text-anchor="middle" fill="#222" stroke="#222" stroke-width="0.25">12</text>
<text x="591.1" y="257.6" font-size="10.8" text-anchor="middle" fill="#222" stroke="#222" stroke-width="0.25">11</text>
<text x="611.6" y="246.2" font-size="10.8" text-anchor="middle" fill="#222" stroke="#222" stroke-width="0.25">13</text>
<text x="626.3" y="236.3" font-size="10.8" text-anchor="middle" fill="#222" stroke="#222" stroke-width="0.25">14</text>
<text x="221.0" y="339.8" font-size="10.8" text-anchor="middle" fill="#222" stroke="#222" stroke-width="0.25">26</text>
<text x="243.1" y="339.4" font-size="10.8" text-anchor="middle" fill="#222" stroke="#222" stroke-width="0.25">27</text>
<text x="276.8" y="354.6" font-size="10.8" text-anchor="middle" fill="#222" stroke="#222" stroke-width="0.25">51</text>
<text x="278.4" y="371.7" font-size="10.8" text-anchor="middle" fill="#222" stroke="#222" stroke-width="0.25">25</text>
<text x="290.4" y="385.3" font-size="10.8" text-anchor="middle" fill="#222" stroke="#222" stroke-width="0.25">28</text>
<text x="124.2" y="393.9" font-size="10.8" text-anchor="middle" fill="#222" stroke="#222" stroke-width="0.25">29</text>
<text x="39.3" y="457.9" font-size="10.8" text-anchor="middle" fill="#222" stroke="#222" stroke-width="0.25">19</text>
<text x="35.5" y="489.2" font-size="10.8" text-anchor="middle" fill="#222" stroke="#222" stroke-width="0.25">20</text>
<text x="104.2" y="495.3" font-size="10.8" text-anchor="middle" fill="#222" stroke="#222" stroke-width="0.25">21</text>
<text x="131.2" y="517.4" font-size="10.8" text-anchor="middle" fill="#222" stroke="#222" stroke-width="0.25">22</text>
<text x="194.0" y="453.4" font-size="10.8" text-anchor="middle" fill="#222" stroke="#222" stroke-width="0.25">24</text>
<text x="189.5" y="545.7" font-size="10.8" text-anchor="middle" fill="#222" stroke="#222" stroke-width="0.25">23</text>
<text x="214.9" y="561.1" font-size="10.8" text-anchor="middle" fill="#222" stroke="#222" stroke-width="0.25">30</text>
<text x="312.8" y="513.1" font-size="10.8" text-anchor="middle" fill="#222" stroke="#222" stroke-width="0.25">2</text>
<text x="354.9" y="502.0" font-size="10.8" text-anchor="middle" fill="#222" stroke="#222" stroke-width="0.25">3</text>
<text x="391.3" y="484.9" font-size="10.8" text-anchor="middle" fill="#222" stroke="#222" stroke-width="0.25">4</text>
<text x="415.1" y="468.0" font-size="10.8" text-anchor="middle" fill="#222" stroke="#222" stroke-width="0.25">5</text>
<text x="435.6" y="457.3" font-size="10.8" text-anchor="middle" fill="#222" stroke="#222" stroke-width="0.25">6</text>
<text x="58.4" y="544.6" font-size="10.8" text-anchor="middle" fill="#222" stroke="#222" stroke-width="0.25">18</text>
<text x="59.6" y="571.9" font-size="10.8" text-anchor="middle" fill="#222" stroke="#222" stroke-width="0.25">15</text>
<text x="60.0" y="597.7" font-size="10.8" text-anchor="middle" fill="#222" stroke="#222" stroke-width="0.25">17</text>
<text x="188.9" y="604.9" font-size="10.8" text-anchor="middle" fill="#222" stroke="#222" stroke-width="0.25">16</text>
<text x="568.5" y="401.2" font-size="10.8" text-anchor="middle" fill="#222" stroke="#222" stroke-width="0.25">32</text>
<text x="593.6" y="393.7" font-size="10.8" text-anchor="middle" fill="#222" stroke="#222" stroke-width="0.25">33</text>
<text x="624.3" y="416.5" font-size="10.8" text-anchor="middle" fill="#222" stroke="#222" stroke-width="0.25">34</text>
<text x="652.0" y="450.6" font-size="10.8" text-anchor="middle" fill="#222" stroke="#222" stroke-width="0.25">35</text>
<text x="556.0" y="495.0" font-size="10.8" text-anchor="middle" fill="#222" stroke="#222" stroke-width="0.25">37</text>
<text x="627.0" y="505.7" font-size="10.8" text-anchor="middle" fill="#222" stroke="#222" stroke-width="0.25">36</text>
<text x="573.1" y="525.1" font-size="10.8" text-anchor="middle" fill="#222" stroke="#222" stroke-width="0.25">38</text>
<text x="643.4" y="513.3" font-size="10.8" text-anchor="middle" fill="#222" stroke="#222" stroke-width="0.25">39</text>
<text x="623.2" y="525.1" font-size="10.8" text-anchor="middle" fill="#222" stroke="#222" stroke-width="0.25">40</text>
<text x="589.6" y="576.5" font-size="10.8" text-anchor="middle" fill="#222" stroke="#222" stroke-width="0.25">41</text>
<text x="725.6" y="484.2" font-size="10.8" text-anchor="middle" fill="#222" stroke="#222" stroke-width="0.25">42</text>
<text x="725.6" y="496.3" font-size="10.8" text-anchor="middle" fill="#222" stroke="#222" stroke-width="0.25">43</text>
<text x="753.4" y="518.3" font-size="10.8" text-anchor="middle" fill="#222" stroke="#222" stroke-width="0.25">44</text>
<text x="482.7" y="568.3" font-size="10.8" text-anchor="middle" fill="#222" stroke="#222" stroke-width="0.25">47</text>
<text x="506.6" y="581.9" font-size="10.8" text-anchor="middle" fill="#222" stroke="#222" stroke-width="0.25">45</text>
<text x="569.5" y="620.1" font-size="10.8" text-anchor="middle" fill="#222" stroke="#222" stroke-width="0.25">46</text>
<text x="598.0" y="635.1" font-size="10.8" text-anchor="middle" fill="#222" stroke="#222" stroke-width="0.25">48</text>
<text x="642.6" y="653.5" font-size="10.8" text-anchor="middle" fill="#222" stroke="#222" stroke-width="0.25">49</text>
<text x="655.1" y="666.0" font-size="10.8" text-anchor="middle" fill="#222" stroke="#222" stroke-width="0.25">50</text>
<text x="667.6" y="679.7" font-size="10.8" text-anchor="middle" fill="#222" stroke="#222" stroke-width="0.25">71</text>
<text x="690.8" y="691.7" font-size="10.8" text-anchor="middle" fill="#222" stroke="#222" stroke-width="0.25">69</text>
<text x="672.2" y="720.2" font-size="10.8" text-anchor="middle" fill="#222" stroke="#222" stroke-width="0.25">70</text>
<text x="545.8" y="403.7" font-size="11.5" text-anchor="middle" fill="#111" stroke="#111" stroke-width="0.25" font-weight="bold">31</text>
<text x="524.0" y="661.7" font-size="11.5" text-anchor="middle" fill="#222" stroke="#222" stroke-width="0.25" font-weight="bold">46</text>
<text x="33.0" y="185.6" font-size="10.8" text-anchor="start" fill="#222" stroke="#222" stroke-width="0.25">65 or</text>
<text x="33.0" y="197.3" font-size="10.8" text-anchor="start" fill="#222" stroke="#222" stroke-width="0.25">66</text>
<line x1="103.7" y1="43.2" x2="117.3" y2="36.4" stroke="#2e2e2e" stroke-width="1.00" stroke-linecap="butt"/>
<line x1="127.6" y1="60.3" x2="153.7" y2="45.5" stroke="#2e2e2e" stroke-width="1.00" stroke-linecap="butt"/>
<line x1="203.8" y1="29.6" x2="189.0" y2="37.6" stroke="#2e2e2e" stroke-width="1.00" stroke-linecap="butt"/>
<line x1="216.3" y1="40.5" x2="190.1" y2="45.5" stroke="#2e2e2e" stroke-width="1.00" stroke-linecap="butt"/>
<line x1="222.0" y1="62.6" x2="204.9" y2="71.7" stroke="#2e2e2e" stroke-width="1.00" stroke-linecap="butt"/>
<line x1="124.1" y1="85.3" x2="156.0" y2="68.3" stroke="#2e2e2e" stroke-width="1.00" stroke-linecap="butt"/>
<line x1="124.1" y1="107.6" x2="150.3" y2="91.6" stroke="#2e2e2e" stroke-width="1.00" stroke-linecap="butt"/>
<line x1="220.5" y1="82.2" x2="158.3" y2="93.4" stroke="#2e2e2e" stroke-width="1.00" stroke-linecap="butt"/>
<line x1="220.5" y1="82.2" x2="183.3" y2="104.1" stroke="#2e2e2e" stroke-width="1.00" stroke-linecap="butt"/>
<line x1="222.0" y1="99.6" x2="176.5" y2="112.1" stroke="#2e2e2e" stroke-width="1.00" stroke-linecap="butt"/>
<line x1="216.3" y1="117.8" x2="175.3" y2="123.9" stroke="#2e2e2e" stroke-width="1.00" stroke-linecap="butt"/>
<line x1="216.3" y1="117.8" x2="166.2" y2="129.2" stroke="#2e2e2e" stroke-width="1.00" stroke-linecap="butt"/>
<line x1="222.0" y1="135.3" x2="177.6" y2="147.4" stroke="#2e2e2e" stroke-width="1.00" stroke-linecap="butt"/>
<line x1="220.9" y1="151.5" x2="181.0" y2="165.1" stroke="#2e2e2e" stroke-width="1.00" stroke-linecap="butt"/>
<line x1="39.6" y1="164.6" x2="56.7" y2="155.5" stroke="#2e2e2e" stroke-width="1.00" stroke-linecap="butt"/>
<line x1="52.1" y1="177.1" x2="68.0" y2="168.0" stroke="#2e2e2e" stroke-width="1.00" stroke-linecap="butt"/>
<line x1="204.6" y1="265.1" x2="220.6" y2="256.0" stroke="#2e2e2e" stroke-width="1.00" stroke-linecap="butt"/>
<line x1="256.2" y1="295.8" x2="274.4" y2="285.5" stroke="#2e2e2e" stroke-width="1.00" stroke-linecap="butt"/>
<line x1="423.6" y1="289.1" x2="423.6" y2="322.1" stroke="#2e2e2e" stroke-width="1.00" stroke-linecap="butt"/>
<line x1="497.2" y1="314.9" x2="512.8" y2="332.9" stroke="#2e2e2e" stroke-width="1.00" stroke-linecap="butt"/>
<line x1="523.6" y1="300.5" x2="529.6" y2="317.3" stroke="#2e2e2e" stroke-width="1.00" stroke-linecap="butt"/>
<line x1="523.6" y1="300.5" x2="547.7" y2="308.9" stroke="#2e2e2e" stroke-width="1.00" stroke-linecap="butt"/>
<line x1="545.2" y1="288.5" x2="569.3" y2="302.9" stroke="#2e2e2e" stroke-width="1.00" stroke-linecap="butt"/>
<line x1="564.5" y1="281.3" x2="582.5" y2="293.3" stroke="#2e2e2e" stroke-width="1.00" stroke-linecap="butt"/>
<line x1="581.2" y1="271.9" x2="598.7" y2="284.8" stroke="#2e2e2e" stroke-width="1.00" stroke-linecap="butt"/>
<line x1="598.7" y1="259.0" x2="616.9" y2="268.1" stroke="#2e2e2e" stroke-width="1.00" stroke-linecap="butt"/>
<line x1="618.4" y1="246.9" x2="642.7" y2="261.3" stroke="#2e2e2e" stroke-width="1.00" stroke-linecap="butt"/>
<line x1="632.1" y1="238.5" x2="652.5" y2="255.2" stroke="#2e2e2e" stroke-width="1.00" stroke-linecap="butt"/>
<line x1="221.0" y1="341.6" x2="221.0" y2="357.6" stroke="#2e2e2e" stroke-width="1.00" stroke-linecap="butt"/>
<line x1="242.7" y1="341.6" x2="237.0" y2="354.1" stroke="#2e2e2e" stroke-width="1.00" stroke-linecap="butt"/>
<line x1="268.8" y1="354.1" x2="222.2" y2="379.2" stroke="#2e2e2e" stroke-width="1.00" stroke-linecap="butt"/>
<line x1="272.2" y1="371.2" x2="246.1" y2="384.9" stroke="#2e2e2e" stroke-width="1.00" stroke-linecap="butt"/>
<line x1="283.6" y1="383.7" x2="260.9" y2="394.0" stroke="#2e2e2e" stroke-width="1.00" stroke-linecap="butt"/>
<line x1="131.5" y1="392.3" x2="157.7" y2="398.4" stroke="#2e2e2e" stroke-width="1.00" stroke-linecap="butt"/>
<line x1="46.2" y1="457.6" x2="57.6" y2="464.4" stroke="#2e2e2e" stroke-width="1.00" stroke-linecap="butt"/>
<line x1="41.6" y1="489.2" x2="48.4" y2="494.9" stroke="#2e2e2e" stroke-width="1.00" stroke-linecap="butt"/>
<line x1="95.1" y1="465.3" x2="104.2" y2="484.6" stroke="#2e2e2e" stroke-width="1.00" stroke-linecap="butt"/>
<line x1="104.2" y1="484.6" x2="120.1" y2="476.7" stroke="#2e2e2e" stroke-width="1.00" stroke-linecap="butt"/>
<line x1="133.8" y1="506.2" x2="142.9" y2="492.6" stroke="#2e2e2e" stroke-width="1.00" stroke-linecap="butt"/>
<line x1="193.4" y1="453.9" x2="189.5" y2="464.1" stroke="#2e2e2e" stroke-width="1.00" stroke-linecap="butt"/>
<line x1="194.4" y1="535.6" x2="201.2" y2="528.8" stroke="#2e2e2e" stroke-width="1.00" stroke-linecap="butt"/>
<line x1="220.6" y1="551.5" x2="228.5" y2="540.1" stroke="#2e2e2e" stroke-width="1.00" stroke-linecap="butt"/>
<line x1="311.6" y1="516.2" x2="294.5" y2="525.3" stroke="#2e2e2e" stroke-width="1.00" stroke-linecap="butt"/>
<line x1="312.7" y1="516.2" x2="328.7" y2="537.9" stroke="#2e2e2e" stroke-width="1.00" stroke-linecap="butt"/>
<line x1="358.2" y1="502.8" x2="368.4" y2="510.8" stroke="#2e2e2e" stroke-width="1.00" stroke-linecap="butt"/>
<line x1="394.6" y1="488.0" x2="392.3" y2="500.6" stroke="#2e2e2e" stroke-width="1.00" stroke-linecap="butt"/>
<line x1="394.6" y1="488.0" x2="404.9" y2="490.3" stroke="#2e2e2e" stroke-width="1.00" stroke-linecap="butt"/>
<line x1="419.7" y1="468.7" x2="429.9" y2="475.5" stroke="#2e2e2e" stroke-width="1.00" stroke-linecap="butt"/>
<line x1="441.3" y1="458.4" x2="451.5" y2="464.1" stroke="#2e2e2e" stroke-width="1.00" stroke-linecap="butt"/>
<line x1="64.1" y1="544.1" x2="76.7" y2="553.2" stroke="#2e2e2e" stroke-width="1.00" stroke-linecap="butt"/>
<line x1="65.3" y1="570.3" x2="85.8" y2="581.7" stroke="#2e2e2e" stroke-width="1.00" stroke-linecap="butt"/>
<line x1="66.0" y1="596.5" x2="85.8" y2="607.4" stroke="#2e2e2e" stroke-width="1.00" stroke-linecap="butt"/>
<line x1="179.1" y1="597.6" x2="165.4" y2="589.7" stroke="#2e2e2e" stroke-width="1.00" stroke-linecap="butt"/>
<line x1="536.7" y1="402.3" x2="524.1" y2="409.1" stroke="#2e2e2e" stroke-width="1.00" stroke-linecap="butt"/>
<line x1="577.6" y1="400.0" x2="586.7" y2="406.9" stroke="#2e2e2e" stroke-width="1.00" stroke-linecap="butt"/>
<line x1="597.0" y1="394.6" x2="603.8" y2="399.2" stroke="#2e2e2e" stroke-width="1.00" stroke-linecap="butt"/>
<line x1="615.2" y1="416.0" x2="597.0" y2="422.8" stroke="#2e2e2e" stroke-width="1.00" stroke-linecap="butt"/>
<line x1="642.5" y1="446.7" x2="623.1" y2="456.9" stroke="#2e2e2e" stroke-width="1.00" stroke-linecap="butt"/>
<line x1="566.2" y1="488.8" x2="592.4" y2="476.3" stroke="#2e2e2e" stroke-width="1.00" stroke-linecap="butt"/>
<line x1="619.4" y1="504.3" x2="609.3" y2="509.4" stroke="#2e2e2e" stroke-width="1.00" stroke-linecap="butt"/>
<line x1="581.5" y1="524.5" x2="600.5" y2="535.9" stroke="#2e2e2e" stroke-width="1.00" stroke-linecap="butt"/>
<line x1="647.2" y1="514.4" x2="647.2" y2="523.3" stroke="#2e2e2e" stroke-width="1.00" stroke-linecap="butt"/>
<line x1="599.2" y1="571.3" x2="611.8" y2="565.0" stroke="#2e2e2e" stroke-width="1.00" stroke-linecap="butt"/>
<line x1="714.2" y1="490.4" x2="705.4" y2="495.5" stroke="#2e2e2e" stroke-width="1.00" stroke-linecap="butt"/>
<line x1="744.6" y1="515.7" x2="709.2" y2="516.9" stroke="#2e2e2e" stroke-width="1.00" stroke-linecap="butt"/>
<line x1="744.6" y1="515.7" x2="711.7" y2="530.9" stroke="#2e2e2e" stroke-width="1.00" stroke-linecap="butt"/>
<line x1="744.6" y1="515.7" x2="697.8" y2="537.2" stroke="#2e2e2e" stroke-width="1.00" stroke-linecap="butt"/>
<line x1="470.1" y1="568.9" x2="456.5" y2="576.9" stroke="#2e2e2e" stroke-width="1.00" stroke-linecap="butt"/>
<line x1="495.2" y1="581.4" x2="479.2" y2="589.4" stroke="#2e2e2e" stroke-width="1.00" stroke-linecap="butt"/>
<line x1="559.2" y1="618.4" x2="545.6" y2="626.4" stroke="#2e2e2e" stroke-width="1.00" stroke-linecap="butt"/>
<line x1="588.8" y1="633.2" x2="575.2" y2="640.1" stroke="#2e2e2e" stroke-width="1.00" stroke-linecap="butt"/>
<line x1="514.9" y1="659.4" x2="508.0" y2="662.8" stroke="#2e2e2e" stroke-width="1.00" stroke-linecap="butt"/>
<line x1="633.5" y1="653.0" x2="609.6" y2="670.1" stroke="#2e2e2e" stroke-width="1.00" stroke-linecap="butt"/>
<line x1="646.0" y1="665.5" x2="621.0" y2="680.3" stroke="#2e2e2e" stroke-width="1.00" stroke-linecap="butt"/>
<line x1="659.7" y1="678.7" x2="634.6" y2="687.1" stroke="#2e2e2e" stroke-width="1.00" stroke-linecap="butt"/>
<line x1="680.1" y1="690.6" x2="655.1" y2="697.4" stroke="#2e2e2e" stroke-width="1.00" stroke-linecap="butt"/>
<line x1="663.1" y1="717.9" x2="638.0" y2="720.8" stroke="#2e2e2e" stroke-width="1.00" stroke-linecap="butt"/>
<polyline points="68.9,485.8 180.4,423.5 211.5,440.6 364.5,356.5" fill="none" stroke="#2e2e2e" stroke-width="1.00" stroke-linejoin="round"/>
<line x1="210.5" y1="379.0" x2="210.5" y2="497.0" stroke="#2e2e2e" stroke-width="1.00" stroke-linecap="butt"/>
<line x1="233.1" y1="493.5" x2="431.0" y2="369.7" stroke="#2e2e2e" stroke-width="1.00" stroke-dasharray="28 4 4 4" stroke-linecap="butt"/>
<polyline points="377.8,403.0 369.6,399.7 381.0,395.0" fill="none" stroke="#2e2e2e" stroke-width="1.00" stroke-linejoin="round"/>
<polyline points="369.6,399.7 481.8,458.4 467.4,467.6" fill="none" stroke="#2e2e2e" stroke-width="1.00" stroke-linejoin="round" stroke-dasharray="30 4"/>
<polyline points="405.0,557.5 384.6,545.5 449.0,511.8" fill="none" stroke="#2e2e2e" stroke-width="1.00" stroke-linejoin="round" stroke-dasharray="20 4 28 4"/>
<polyline points="451.0,512.5 652.0,628.5 766.0,565.0" fill="none" stroke="#2e2e2e" stroke-width="1.00" stroke-linejoin="round" stroke-dasharray="50 5 8 5"/>
<line x1="766.0" y1="565.0" x2="721.8" y2="540.0" stroke="#2e2e2e" stroke-width="1.00" stroke-dasharray="30 5" stroke-linecap="butt"/>
<line x1="665.0" y1="506.5" x2="597.0" y2="469.5" stroke="#2e2e2e" stroke-width="1.00" stroke-dasharray="30 5" stroke-linecap="butt"/>
<line x1="599.2" y1="447.8" x2="612.9" y2="442.1" stroke="#2e2e2e" stroke-width="1.00" stroke-dasharray="6 3" stroke-linecap="butt"/>
</g>
<defs><filter id="soft" x="0" y="0" width="100%" height="100%"><feGaussianBlur stdDeviation="0.35"/></filter></defs>
<g id="wm" style="mix-blend-mode:multiply" fill="#dddddd">
<!-- D -->
<path d="M85.6 285.8 H146 C172 285.8 187.2 307 187.2 337.5 C187.2 368 172 389.5 146 389.5 H117.5 V363 H126 C142 363 152 354 152 339 C152 324 142 313.9 126 313.9 H85.6 Q82.8 313.9 82.8 311 V288.6 Q82.8 285.8 85.6 285.8 Z"/>
<path d="M85.6 324.3 H115 Q118 324.3 118 327.3 V389.5 H85.6 Q82.8 389.5 82.8 386.5 V327.3 Q82.8 324.3 85.6 324.3 Z"/>
<!-- E -->
<rect x="194.3" y="285.8" width="81.2" height="27.7" rx="3"/>
<path d="M197.3 324.3 H272.5 Q275.5 324.3 275.5 327.3 V352 H230.2 V362.6 H275.5 V386.5 Q275.5 389.5 272.5 389.5 H197.3 Q194.3 389.5 194.3 386.5 V327.3 Q194.3 324.3 197.3 324.3 Z"/>
<!-- N1 -->
<path d="M288.9 285.8 H354 C371 285.8 380.6 296 380.6 312 V386.5 Q380.6 389.5 377.6 389.5 H345.5 V320.5 Q345.5 314.2 339.5 314.2 H326 Q321.8 314.2 321.8 318.5 V389.5 H288.9 Q285.9 389.5 285.9 386.5 V288.8 Q285.9 285.8 288.9 285.8 Z"/>
<!-- N2 -->
<path d="M393.1 285.8 H458.5 C475.5 285.8 485.1 296 485.1 312 V386.5 Q485.1 389.5 482.1 389.5 H449.9 V320.5 Q449.9 314.5 443.9 314.5 H430.2 Q426 314.5 426 318.7 V389.5 H393.1 Q390.1 389.5 390.1 386.5 V288.8 Q390.1 285.8 393.1 285.8 Z"/>
<!-- Y -->
<path d="M495.3 285.8 H524.7 Q527.7 285.8 527.7 288.8 V310 Q527.7 316.5 534 316.5 H546 Q552.3 316.5 552.3 310 V288.8 Q552.3 285.8 555.3 285.8 H584.6 Q587.6 285.8 587.6 288.8 V316 C587.6 341 568 353.4 540 353.4 C512 353.4 492.3 341 492.3 316 V288.8 Q492.3 285.8 495.3 285.8 Z"/>
<rect x="511.7" y="362.4" width="56.3" height="27.1" rx="3"/>
<!-- apostrophe -->
<path d="M599.3 285.8 H628.5 L616 324.6 H599.3 Z"/>
<!-- S -->
<path d="M646.4 285.8 H676.6 Q679.6 285.8 679.6 288.8 V293 C679.6 298 683 301 690.5 307.6 L706.1 323.2 C714 331 718.3 341 718.3 352.9 C718.3 366 712 377 703 384 C697 388 691 389.5 684.3 389.5 H640.5 Q637.5 389.5 637.5 386.5 V365.2 Q637.5 362.2 640.5 362.2 H671.8 C679 362.2 682.5 356 680 349.5 C678 344 675 341 671.8 337.3 L656.2 320.1 C649 312 643.4 306 643.4 296.7 V288.8 Q643.4 285.8 646.4 285.8 Z"/>

</g>
</svg>
</body></html>
